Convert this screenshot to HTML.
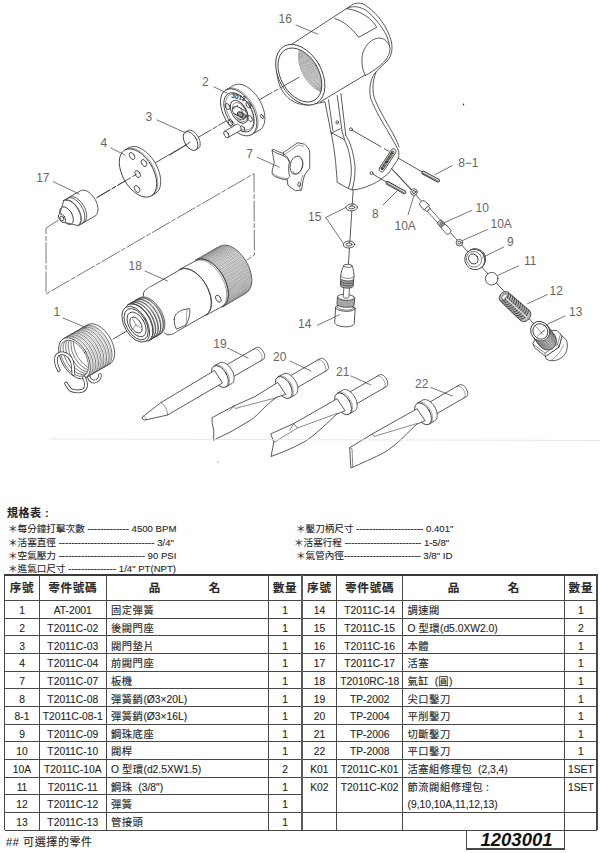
<!DOCTYPE html>
<html lang="zh-Hant"><head><meta charset="utf-8"><title>1203001</title>
<style>
html,body{margin:0;padding:0;background:#fff;}
body{width:600px;height:853px;position:relative;overflow:hidden;font-family:"Liberation Sans","Noto Sans CJK TC",sans-serif;color:#262626;}
.ln{position:absolute;}
.c{position:absolute;-webkit-text-stroke:0.12px #262626;font-size:10.3px;white-space:nowrap;overflow:visible;box-sizing:border-box;}
.c.h{font-weight:bold;font-size:11.6px;letter-spacing:0.7px;color:#2a2a2a;}
.c.n{letter-spacing:0;}
.k{letter-spacing:0.5px;}
.s{position:absolute;-webkit-text-stroke:0.1px #262626;font-size:9.6px;white-space:nowrap;line-height:13px;}
.s.b{font-weight:bold;font-size:11px;letter-spacing:0.5px;}
.s.f{font-size:11px;letter-spacing:0.6px;}
.num{position:absolute;font-size:18.5px;font-weight:bold;font-style:italic;text-align:center;color:#111;}
svg{position:absolute;left:0;top:0;}
</style></head><body>
<svg width="600" height="490" viewBox="0 0 600 490" font-family="Liberation Sans, sans-serif" stroke-linecap="round" stroke-linejoin="round">
<line x1="97.0" y1="197.5" x2="137.0" y2="174.0" stroke="#3c3c3c" stroke-width="0.85" stroke-dasharray="15 2.5 4 2.5"/>
<line x1="155.0" y1="163.0" x2="190.0" y2="142.5" stroke="#3c3c3c" stroke-width="0.85"/>
<line x1="198.0" y1="137.5" x2="226.0" y2="121.0" stroke="#3c3c3c" stroke-width="0.85" stroke-dasharray="15 2.5 4 2.5"/>
<line x1="259.0" y1="100.0" x2="300.0" y2="76.5" stroke="#3c3c3c" stroke-width="0.85" stroke-dasharray="15 2.5 4 2.5"/>
<line x1="113.0" y1="339.0" x2="134.0" y2="327.0" stroke="#3c3c3c" stroke-width="0.85"/>
<path d="M58 220.5 L46 228 L46 294 L254 173.6 L254.4 255 L247 260" fill="none" stroke="#3c3c3c" stroke-width="0.7" stroke-dasharray="20 2.5 4 2.5"/>
<line x1="353.3" y1="188.0" x2="348.3" y2="266.0" stroke="#3c3c3c" stroke-width="0.85"/>
<line x1="391.5" y1="168.5" x2="545.0" y2="336.0" stroke="#3c3c3c" stroke-width="0.85"/>
<line x1="395.3" y1="156.4" x2="424.0" y2="173.0" stroke="#3c3c3c" stroke-width="0.85"/>
<path d="M80.4 190.8 L81.4 190.4 L82.5 190.1 L83.7 190.2 L85.0 190.4 L86.3 190.9 L87.7 191.5 L89.0 192.4 L90.4 193.5 L91.6 194.7 L92.8 196.1 L94.0 197.6 L95.0 199.2 L95.9 200.9 L96.6 202.7 L97.2 204.4 L97.7 206.1 L97.9 207.8 L98.0 209.4 L97.9 210.9 L97.7 212.3 L97.2 213.5 L96.6 214.6 L95.9 215.4 L95.0 216.1 L78.1 225.8 L77.1 226.3 L76.0 226.5 L74.8 226.5 L73.5 226.3 L72.2 225.8 L70.8 225.1 L69.5 224.2 L68.1 223.2 L66.9 221.9 L65.6 220.5 L64.5 219.0 L63.5 217.4 L62.6 215.7 L61.9 214.0 L61.3 212.3 L60.8 210.5 L60.6 208.8 L60.5 207.2 L60.6 205.7 L60.8 204.4 L61.3 203.1 L61.9 202.1 L62.6 201.2 L63.5 200.6Z" fill="#fff" stroke="none"/>
<path d="M63.5 200.6 L80.4 190.8 L81.4 190.4 L82.5 190.1 L83.7 190.2 L85.0 190.4 L86.3 190.9 L87.7 191.5 L89.0 192.4 L90.4 193.5 L91.6 194.7 L92.8 196.1 L94.0 197.6 L95.0 199.2 L95.9 200.9 L96.6 202.7 L97.2 204.4 L97.7 206.1 L97.9 207.8 L98.0 209.4 L97.9 210.9 L97.7 212.3 L97.2 213.5 L96.6 214.6 L95.9 215.4 L95.0 216.1 L78.1 225.8" fill="none" stroke="#3c3c3c" stroke-width="0.85" />
<path d="M67.1 198.5 L68.2 198.0 L69.3 197.8 L70.5 197.8 L71.8 198.0 L73.1 198.5 L74.4 199.2 L75.8 200.1 L77.1 201.1 L78.4 202.4 L79.6 203.8 L80.7 205.3 L81.7 206.9 L82.6 208.6 L83.4 210.3 L84.0 212.0 L84.4 213.8 L84.7 215.5 L84.8 217.1 L84.7 218.6 L84.4 219.9 L84.0 221.2 L83.4 222.2 L82.6 223.1 L81.7 223.7" fill="none" stroke="#3c3c3c" stroke-width="0.85" />
<path d="M69.0 197.4 L70.1 196.9 L71.2 196.7 L72.4 196.7 L73.7 196.9 L75.0 197.4 L76.3 198.1 L77.7 199.0 L79.0 200.0 L80.3 201.3 L81.5 202.7 L82.6 204.2 L83.6 205.8 L84.5 207.5 L85.3 209.2 L85.9 210.9 L86.3 212.7 L86.6 214.4 L86.7 216.0 L86.6 217.5 L86.3 218.8 L85.9 220.1 L85.3 221.1 L84.5 222.0 L83.6 222.6" fill="none" stroke="#3c3c3c" stroke-width="0.85" />
<path d="M63.7 200.5 L64.7 200.0 L65.8 199.8 L67.0 199.8 L68.3 200.0 L69.6 200.5 L71.0 201.2 L72.3 202.1 L73.6 203.1 L74.9 204.4 L76.1 205.8 L77.3 207.3 L78.3 208.9 L79.2 210.6 L79.9 212.3 L80.5 214.0 L80.9 215.8 L81.2 217.5 L81.3 219.1 L81.2 220.6 L80.9 221.9 L80.5 223.2 L79.9 224.2 L79.2 225.1 L78.3 225.7" fill="none" stroke="#3c3c3c" stroke-width="0.85" />
<path d="M63.7 200.9 L64.7 200.5 L65.8 200.3 L67.0 200.3 L68.2 200.5 L69.5 200.9 L70.8 201.6 L72.1 202.5 L73.4 203.5 L74.6 204.7 L75.8 206.1 L76.9 207.5 L77.9 209.1 L78.8 210.7 L79.5 212.4 L80.1 214.1 L80.5 215.8 L80.8 217.4 L80.8 219.0 L80.8 220.5 L80.5 221.8 L80.1 223.0 L79.5 224.0 L78.8 224.9 L77.9 225.5 L71.3 224.0 L70.6 224.3 L69.9 224.4 L69.1 224.4 L68.2 224.3 L67.4 224.0 L66.5 223.5 L65.6 223.0 L64.7 222.3 L63.9 221.4 L63.1 220.5 L62.3 219.5 L61.7 218.5 L61.1 217.4 L60.6 216.2 L60.2 215.1 L59.9 213.9 L59.7 212.8 L59.7 211.8 L59.7 210.8 L59.9 209.9 L60.2 209.1 L60.6 208.4 L61.1 207.8 L61.7 207.4Z" fill="#fff" stroke="none"/>
<path d="M61.7 207.4 L63.7 200.9 L64.7 200.5 L65.8 200.3 L67.0 200.3 L68.2 200.5 L69.5 200.9 L70.8 201.6 L72.1 202.5 L73.4 203.5 L74.6 204.7 L75.8 206.1 L76.9 207.5 L77.9 209.1 L78.8 210.7 L79.5 212.4 L80.1 214.1 L80.5 215.8 L80.8 217.4 L80.8 219.0 L80.8 220.5 L80.5 221.8 L80.1 223.0 L79.5 224.0 L78.8 224.9 L77.9 225.5 L71.3 224.0" fill="none" stroke="#3c3c3c" stroke-width="0.85" />
<ellipse cx="66.5" cy="215.7" rx="5.5" ry="9.6" transform="rotate(-30 66.5 215.7)" fill="#fff" stroke="#3c3c3c" stroke-width="0.85"/>
<path d="M61.7 207.4 L62.3 207.1 L63.1 207.0 L63.9 207.0 L64.7 207.1 L65.6 207.4 L66.5 207.9 L67.4 208.4 L68.2 209.1 L69.1 210.0 L69.9 210.9 L70.6 211.9 L71.3 212.9 L71.9 214.0 L72.3 215.2 L72.7 216.3 L73.0 217.5 L73.2 218.6 L73.3 219.6 L73.2 220.6 L73.0 221.5 L72.7 222.3 L72.3 223.0 L71.9 223.6 L71.3 224.0 L64.6 222.4 L64.2 222.6 L63.9 222.7 L63.5 222.7 L63.0 222.6 L62.6 222.4 L62.1 222.2 L61.7 221.9 L61.2 221.5 L60.8 221.1 L60.4 220.7 L60.0 220.2 L59.7 219.6 L59.4 219.0 L59.1 218.5 L58.9 217.9 L58.8 217.3 L58.7 216.7 L58.7 216.2 L58.7 215.7 L58.8 215.2 L58.9 214.8 L59.1 214.5 L59.4 214.2 L59.7 214.0Z" fill="#fff" stroke="none"/>
<path d="M59.7 214.0 L61.7 207.4 L62.3 207.1 L63.1 207.0 L63.9 207.0 L64.7 207.1 L65.6 207.4 L66.5 207.9 L67.4 208.4 L68.2 209.1 L69.1 210.0 L69.9 210.9 L70.6 211.9 L71.3 212.9 L71.9 214.0 L72.3 215.2 L72.7 216.3 L73.0 217.5 L73.2 218.6 L73.3 219.6 L73.2 220.6 L73.0 221.5 L72.7 222.3 L72.3 223.0 L71.9 223.6 L71.3 224.0 L64.6 222.4" fill="none" stroke="#3c3c3c" stroke-width="0.85" />
<ellipse cx="62.1" cy="218.2" rx="2.8" ry="4.9" transform="rotate(-30 62.1 218.2)" fill="#fff" stroke="#3c3c3c" stroke-width="0.85"/>
<ellipse cx="61.9" cy="218.4" rx="1.7" ry="2.6" transform="rotate(-30 61.9 218.4)" fill="none" stroke="#3c3c3c" stroke-width="0.85"/>
<path d="M128.7 147.8 L130.6 146.9 L132.6 146.6 L134.8 146.6 L137.1 147.0 L139.5 147.8 L142.0 149.1 L144.4 150.7 L146.8 152.6 L149.1 154.9 L151.3 157.4 L153.4 160.1 L155.2 163.1 L156.8 166.1 L158.2 169.3 L159.3 172.4 L160.1 175.6 L160.6 178.6 L160.7 181.5 L160.6 184.3 L160.1 186.8 L159.3 189.0 L158.2 190.9 L156.8 192.5 L155.2 193.6 L151.3 195.9 L149.4 196.8 L147.4 197.1 L145.2 197.1 L142.9 196.7 L140.5 195.9 L138.0 194.6 L135.6 193.0 L133.2 191.1 L130.8 188.8 L128.6 186.3 L126.6 183.6 L124.8 180.6 L123.1 177.6 L121.8 174.4 L120.7 171.3 L119.9 168.1 L119.4 165.1 L119.3 162.2 L119.4 159.4 L119.9 156.9 L120.7 154.7 L121.8 152.8 L123.1 151.2 L124.7 150.1Z" fill="#fff" stroke="none"/>
<path d="M124.7 150.1 L128.7 147.8 L130.6 146.9 L132.6 146.6 L134.8 146.6 L137.1 147.0 L139.5 147.8 L142.0 149.1 L144.4 150.7 L146.8 152.6 L149.1 154.9 L151.3 157.4 L153.4 160.1 L155.2 163.1 L156.8 166.1 L158.2 169.3 L159.3 172.4 L160.1 175.6 L160.6 178.6 L160.7 181.5 L160.6 184.3 L160.1 186.8 L159.3 189.0 L158.2 190.9 L156.8 192.5 L155.2 193.6 L151.3 195.9" fill="none" stroke="#3c3c3c" stroke-width="0.85" />
<ellipse cx="138.0" cy="173.0" rx="15.3" ry="26.5" transform="rotate(-30 138.0 173.0)" fill="#fff" stroke="#3c3c3c" stroke-width="0.85"/>
<path d="M125.8 149.5 L127.6 148.6 L129.7 148.3 L131.9 148.3 L134.2 148.7 L136.6 149.5 L139.0 150.8 L141.5 152.4 L143.9 154.3 L146.2 156.6 L148.4 159.1 L150.4 161.8 L152.3 164.8 L153.9 167.8 L155.3 171.0 L156.3 174.1 L157.1 177.3 L157.6 180.3 L157.8 183.2 L157.6 186.0 L157.1 188.5 L156.3 190.7 L155.3 192.6 L153.9 194.2 L152.3 195.3" fill="none" stroke="#3c3c3c" stroke-width="0.5" />
<line x1="97.0" y1="197.5" x2="137.0" y2="174.0" stroke="#3c3c3c" stroke-width="0.85" stroke-dasharray="15 2.5 4 2.5"/>
<ellipse cx="132.0" cy="156.0" rx="2.3" ry="3.8" transform="rotate(-30 132.0 156.0)" fill="none" stroke="#3c3c3c" stroke-width="0.85"/>
<ellipse cx="144.0" cy="163.0" rx="2.3" ry="3.8" transform="rotate(-30 144.0 163.0)" fill="none" stroke="#3c3c3c" stroke-width="0.85"/>
<ellipse cx="137.6" cy="174.0" rx="2.3" ry="3.8" transform="rotate(-30 137.6 174.0)" fill="none" stroke="#3c3c3c" stroke-width="0.85"/>
<ellipse cx="137.0" cy="189.0" rx="2.3" ry="3.8" transform="rotate(-30 137.0 189.0)" fill="none" stroke="#3c3c3c" stroke-width="0.85"/>
<path d="M187.7 130.7 L188.4 130.4 L189.2 130.2 L190.0 130.2 L190.9 130.4 L191.9 130.7 L192.8 131.2 L193.8 131.8 L194.8 132.6 L195.7 133.5 L196.5 134.5 L197.3 135.5 L198.0 136.7 L198.7 137.9 L199.2 139.1 L199.6 140.4 L200.0 141.6 L200.1 142.8 L200.2 143.9 L200.1 145.0 L200.0 146.0 L199.6 146.9 L199.2 147.6 L198.7 148.2 L198.1 148.7 L195.8 150.0 L195.1 150.3 L194.3 150.5 L193.4 150.5 L192.5 150.3 L191.6 150.0 L190.6 149.5 L189.6 148.9 L188.7 148.1 L187.8 147.2 L186.9 146.2 L186.1 145.2 L185.4 144.0 L184.8 142.8 L184.2 141.6 L183.8 140.3 L183.5 139.1 L183.3 137.9 L183.2 136.8 L183.3 135.7 L183.5 134.7 L183.8 133.8 L184.2 133.1 L184.8 132.5 L185.4 132.0Z" fill="#fff" stroke="none"/>
<path d="M185.4 132.0 L187.7 130.7 L188.4 130.4 L189.2 130.2 L190.0 130.2 L190.9 130.4 L191.9 130.7 L192.8 131.2 L193.8 131.8 L194.8 132.6 L195.7 133.5 L196.5 134.5 L197.3 135.5 L198.0 136.7 L198.7 137.9 L199.2 139.1 L199.6 140.4 L200.0 141.6 L200.1 142.8 L200.2 143.9 L200.1 145.0 L200.0 146.0 L199.6 146.9 L199.2 147.6 L198.7 148.2 L198.1 148.7 L195.8 150.0" fill="none" stroke="#3c3c3c" stroke-width="0.85" />
<ellipse cx="190.6" cy="141.0" rx="6.0" ry="10.4" transform="rotate(-30 190.6 141.0)" fill="#fff" stroke="#3c3c3c" stroke-width="0.85"/>
<line x1="170.0" y1="155.0" x2="190.2" y2="142.2" stroke="#3c3c3c" stroke-width="0.85"/>
<path d="M233.8 85.4 L235.6 84.6 L237.5 84.2 L239.7 84.2 L241.9 84.6 L244.3 85.4 L246.7 86.6 L249.0 88.2 L251.4 90.1 L253.6 92.3 L255.8 94.7 L257.8 97.4 L259.6 100.3 L261.1 103.2 L262.5 106.3 L263.5 109.4 L264.3 112.4 L264.7 115.4 L264.9 118.2 L264.7 120.9 L264.3 123.3 L263.5 125.5 L262.5 127.4 L261.1 128.9 L259.6 130.0 L251.6 134.6 L249.8 135.4 L247.8 135.8 L245.7 135.8 L243.4 135.4 L241.1 134.6 L238.7 133.4 L236.3 131.8 L234.0 129.9 L231.7 127.7 L229.6 125.3 L227.6 122.6 L225.8 119.7 L224.2 116.8 L222.9 113.7 L221.9 110.6 L221.1 107.6 L220.6 104.6 L220.5 101.8 L220.6 99.1 L221.1 96.7 L221.8 94.5 L222.9 92.6 L224.2 91.1 L225.8 90.0Z" fill="#fff" stroke="none"/>
<path d="M225.8 90.0 L233.8 85.4 L235.6 84.6 L237.5 84.2 L239.7 84.2 L241.9 84.6 L244.3 85.4 L246.7 86.6 L249.0 88.2 L251.4 90.1 L253.6 92.3 L255.8 94.7 L257.8 97.4 L259.6 100.3 L261.1 103.2 L262.5 106.3 L263.5 109.4 L264.3 112.4 L264.7 115.4 L264.9 118.2 L264.7 120.9 L264.3 123.3 L263.5 125.5 L262.5 127.4 L261.1 128.9 L259.6 130.0 L251.6 134.6" fill="none" stroke="#3c3c3c" stroke-width="0.85" />
<ellipse cx="238.7" cy="112.3" rx="14.9" ry="25.8" transform="rotate(-30 238.7 112.3)" fill="#fff" stroke="#3c3c3c" stroke-width="0.85"/>
<path d="M226.9 89.3 L228.7 88.5 L230.7 88.1 L232.8 88.2 L235.1 88.6 L237.4 89.4 L239.8 90.6 L242.2 92.1 L244.5 94.0 L246.8 96.2 L248.9 98.7 L250.9 101.4 L252.7 104.2 L254.3 107.2 L255.6 110.2 L256.7 113.3 L257.4 116.4 L257.9 119.3 L258.1 122.2 L257.9 124.8 L257.4 127.3 L256.7 129.4 L255.6 131.3 L254.3 132.8 L252.7 134.0" fill="none" stroke="#3c3c3c" stroke-width="0.5" />
<ellipse cx="239.0" cy="112.3" rx="12.4" ry="21.5" transform="rotate(-30 239.0 112.3)" fill="none" stroke="#3c3c3c" stroke-width="0.85"/>
<ellipse cx="239.7" cy="112.0" rx="11.5" ry="20.0" transform="rotate(-30 239.7 112.0)" fill="none" stroke="#3c3c3c" stroke-width="0.5"/>
<ellipse cx="262.0" cy="116.5" rx="1.2" ry="2.3" transform="rotate(-30 262.0 116.5)" fill="none" stroke="#3c3c3c" stroke-width="0.85"/>
<ellipse cx="239.2" cy="111.8" rx="7.2" ry="12.5" transform="rotate(-30 239.2 111.8)" fill="none" stroke="#3c3c3c" stroke-width="0.9"/>
<ellipse cx="239.9" cy="112.1" rx="6.1" ry="10.5" transform="rotate(-30 239.9 112.1)" fill="none" stroke="#3c3c3c" stroke-width="0.5"/>
<path d="M244.3 110.5 L244.8 110.9 L245.3 111.3 L245.8 111.8 L246.2 112.3 L246.5 112.8 L246.8 113.3 L247.0 113.9 L247.1 114.5 L247.1 115.0 L247.0 115.5 L246.9 116.0 L246.7 116.5 L246.4 116.9 L246.0 117.2 L245.5 117.5 L245.0 117.8 L244.5 117.9 L243.9 118.0 L243.3 118.1 L242.7 118.0 L242.0 117.9 L241.4 117.7 L240.7 117.4 L240.1 117.1 L235.1 114.1 L234.6 113.7 L234.1 113.3 L233.6 112.8 L233.2 112.3 L232.9 111.8 L232.6 111.3 L232.4 110.7 L232.3 110.1 L232.3 109.6 L232.4 109.1 L232.5 108.6 L232.7 108.1 L233.0 107.7 L233.4 107.4 L233.9 107.1 L234.4 106.8 L234.9 106.7 L235.5 106.6 L236.1 106.5 L236.7 106.6 L237.4 106.7 L238.0 106.9 L238.7 107.2 L239.3 107.5Z" fill="#fff" stroke="none"/>
<path d="M239.3 107.5 L244.3 110.5 L244.8 110.9 L245.3 111.3 L245.8 111.8 L246.2 112.3 L246.5 112.8 L246.8 113.3 L247.0 113.9 L247.1 114.5 L247.1 115.0 L247.0 115.5 L246.9 116.0 L246.7 116.5 L246.4 116.9 L246.0 117.2 L245.5 117.5 L245.0 117.8 L244.5 117.9 L243.9 118.0 L243.3 118.1 L242.7 118.0 L242.0 117.9 L241.4 117.7 L240.7 117.4 L240.1 117.1 L235.1 114.1" fill="none" stroke="#3c3c3c" stroke-width="0.9" />
<ellipse cx="237.2" cy="110.8" rx="3.9" ry="5.2" transform="rotate(-60 237.2 110.8)" fill="#fff" stroke="#3c3c3c" stroke-width="0.9"/>
<path d="M244.1 113.7 L244.5 113.9 L244.8 114.2 L245.1 114.4 L245.3 114.7 L245.6 115.0 L245.7 115.3 L245.9 115.6 L246.0 115.9 L246.0 116.2 L246.0 116.6 L246.0 116.9 L245.9 117.1 L245.7 117.4 L245.6 117.6 L245.3 117.8 L245.1 118.0 L244.8 118.1 L244.4 118.2 L244.1 118.3 L243.7 118.3 L243.4 118.2 L243.0 118.1 L242.6 118.0 L242.3 117.9 L239.3 116.4 L238.9 116.2 L238.6 115.9 L238.3 115.7 L238.1 115.4 L237.8 115.1 L237.7 114.8 L237.5 114.5 L237.4 114.2 L237.4 113.9 L237.4 113.5 L237.4 113.2 L237.5 113.0 L237.7 112.7 L237.8 112.5 L238.1 112.3 L238.3 112.1 L238.6 112.0 L239.0 111.9 L239.3 111.8 L239.7 111.8 L240.0 111.9 L240.4 112.0 L240.8 112.1 L241.1 112.2Z" fill="#999" stroke="none"/>
<path d="M241.1 112.2 L244.1 113.7 L244.5 113.9 L244.8 114.2 L245.1 114.4 L245.3 114.7 L245.6 115.0 L245.7 115.3 L245.9 115.6 L246.0 115.9 L246.0 116.2 L246.0 116.6 L246.0 116.9 L245.9 117.1 L245.7 117.4 L245.6 117.6 L245.3 117.8 L245.1 118.0 L244.8 118.1 L244.4 118.2 L244.1 118.3 L243.7 118.3 L243.4 118.2 L243.0 118.1 L242.6 118.0 L242.3 117.9 L239.3 116.4" fill="none" stroke="#3c3c3c" stroke-width="0.9" />
<ellipse cx="240.2" cy="114.3" rx="2.2" ry="3.0" transform="rotate(-60 240.2 114.3)" fill="#999" stroke="#3c3c3c" stroke-width="0.9"/>
<path d="M236.7 117.3 C240.7 121.3 245.7 120.3 246.7 115.3" fill="none" stroke="#3c3c3c" stroke-width="0.9" />
<path d="M232.7 109.3 L237.7 105.3 M242.7 104.8 L245.7 110.3" fill="none" stroke="#3c3c3c" stroke-width="0.8" />
<ellipse cx="227.6" cy="106.5" rx="2.0" ry="3.3" transform="rotate(-30 227.6 106.5)" fill="none" stroke="#3c3c3c" stroke-width="0.85"/>
<ellipse cx="250.0" cy="118.5" rx="2.0" ry="3.3" transform="rotate(-30 250.0 118.5)" fill="none" stroke="#3c3c3c" stroke-width="0.85"/>
<ellipse cx="242.5" cy="128.8" rx="2.0" ry="3.3" transform="rotate(-30 242.5 128.8)" fill="none" stroke="#3c3c3c" stroke-width="0.85"/>
<ellipse cx="230.5" cy="122.5" rx="2.0" ry="3.3" transform="rotate(-30 230.5 122.5)" fill="none" stroke="#3c3c3c" stroke-width="0.85"/>
<ellipse cx="248.5" cy="105.0" rx="2.0" ry="3.3" transform="rotate(-30 248.5 105.0)" fill="none" stroke="#3c3c3c" stroke-width="0.85"/>
<text x="231" y="97.6" font-size="6.5" fill="#333" font-weight="bold" transform="rotate(14 231 97.6)">3012</text>
<path d="M236.7 124.3 L237.0 124.2 L237.2 124.1 L237.5 124.1 L237.8 124.2 L238.2 124.3 L238.5 124.5 L238.8 124.7 L239.2 124.9 L239.5 125.3 L239.8 125.6 L240.1 126.0 L240.3 126.4 L240.5 126.8 L240.7 127.2 L240.9 127.6 L241.0 128.1 L241.0 128.5 L241.0 128.9 L241.0 129.2 L241.0 129.6 L240.8 129.9 L240.7 130.1 L240.5 130.4 L240.3 130.5 L228.1 137.5 L227.8 137.6 L227.6 137.7 L227.3 137.7 L227.0 137.6 L226.6 137.5 L226.3 137.3 L226.0 137.1 L225.6 136.9 L225.3 136.5 L225.0 136.2 L224.7 135.8 L224.5 135.4 L224.3 135.0 L224.1 134.6 L223.9 134.2 L223.8 133.7 L223.8 133.3 L223.8 132.9 L223.8 132.6 L223.8 132.2 L224.0 131.9 L224.1 131.7 L224.3 131.4 L224.5 131.3Z" fill="#fff" stroke="none"/>
<path d="M224.5 131.3 L236.7 124.3 L237.0 124.2 L237.2 124.1 L237.5 124.1 L237.8 124.2 L238.2 124.3 L238.5 124.5 L238.8 124.7 L239.2 124.9 L239.5 125.3 L239.8 125.6 L240.1 126.0 L240.3 126.4 L240.5 126.8 L240.7 127.2 L240.9 127.6 L241.0 128.1 L241.0 128.5 L241.0 128.9 L241.0 129.2 L241.0 129.6 L240.8 129.9 L240.7 130.1 L240.5 130.4 L240.3 130.5 L228.1 137.5" fill="none" stroke="#3c3c3c" stroke-width="0.85" />
<ellipse cx="226.3" cy="134.4" rx="2.1" ry="3.6" transform="rotate(-30 226.3 134.4)" fill="#fff" stroke="#3c3c3c" stroke-width="0.85"/>
<path d="M291.5 44.4 L351.3 5.4 C355 2.5 362 1.8 367 6.5 C378 14 388 28 391.5 42 C393 51 391 58 385 63 L374.8 73 C370 80 369 90 370.4 96.8 C372 104 381 120 386.7 129.3 C391 137 396 145 398.6 151 C399.5 156 398 160 395.3 163 C391 170 389 173 386.7 174.8 C380 180 375 183.5 371.5 184.6 C364 188 357 190 352 189.8 L348.3 188.5 L337.2 182.4 C336.5 172 336 166 335.3 159 C334 148 332.5 139 331 132.5 L324.9 101.7 L309.3 105 C290 106 276 90 277 68 C278 52 286 44 291.5 44.4Z" fill="#fff" stroke="#3c3c3c" stroke-width="0.85" />
<path d="M346.7 8.7 C351 6 358 5.5 365.3 10 C374 16 383 28 386.7 36 C388.5 40 389.3 44 389.3 46" fill="none" stroke="#3c3c3c" stroke-width="0.85" />
<path d="M334.7 18.7 C341 19.5 351 27 358.7 37.3 L376.7 27.3 C372 19 362 11 347.3 8.7" fill="none" stroke="#3c3c3c" stroke-width="0.85" />
<line x1="320.5" y1="101.8" x2="365.3" y2="74.8" stroke="#3c3c3c" stroke-width="0.85"/>
<path d="M365.3 75.5 C361 68 361 56 364 50 C367 43 373 38.5 379 38 C385 38 389 43 390 48 C390 55 386 61 379 66.5 C374 70.5 369 73.5 365.3 75.5Z" fill="#fff" stroke="#3c3c3c" stroke-width="0.85" />
<path d="M376 72.5 C372.5 80 372.5 90 373.8 96 C376 104 384 118 389.5 127.5 C394 135 397 141 399 147" fill="none" stroke="#3c3c3c" stroke-width="0.85" />
<path d="M328.5 99.9 L332.9 130.6" fill="none" stroke="#3c3c3c" stroke-width="0.85" />
<path d="M337.2 95.5 L342.1 131.9 L344.6 139.3" fill="none" stroke="#3c3c3c" stroke-width="0.85" />
<path d="M340.9 93.7 L345.8 135.6" fill="none" stroke="#3c3c3c" stroke-width="0.85" />
<path d="M331.5 133 L340.2 128.8" fill="none" stroke="#3c3c3c" stroke-width="0.85" />
<path d="M331 132.5 L344 139.3 C348 146 351 158 351.3 170 C351.3 178 350 184 348.3 188.5" fill="none" stroke="#3c3c3c" stroke-width="0.85" />
<path d="M345.8 135.6 C350 141 353.5 152 355 166.4 C355.3 176 354 184 352 189.8" fill="none" stroke="#3c3c3c" stroke-width="0.85" />
<ellipse cx="350.9" cy="129.3" rx="1.5" ry="1.5" transform="rotate(0 350.9 129.3)" fill="none" stroke="#3c3c3c" stroke-width="0.85"/>
<ellipse cx="371.5" cy="173.1" rx="1.5" ry="1.5" transform="rotate(0 371.5 173.1)" fill="none" stroke="#3c3c3c" stroke-width="0.85"/>
<ellipse cx="337.2" cy="122.3" rx="1.2" ry="1.6" transform="rotate(20 337.2 122.3)" fill="none" stroke="#3c3c3c" stroke-width="0.85"/>
<g transform="rotate(-57 387.7 160.2)"><rect x="374.2" y="157.6" width="26.6" height="5.2" rx="2.6" fill="#fff" stroke="#3c3c3c" stroke-width="0.8"/><rect x="376.2" y="158.6" width="22.6" height="3.2" rx="1.6" fill="#3a3a3a" stroke="none"/><text x="378.5" y="161.3" font-size="2.8" fill="#eee" font-weight="bold" letter-spacing="0.6">AIR TOOLS</text></g>
<line x1="352.3" y1="130.3" x2="389.5" y2="151.6" stroke="#3c3c3c" stroke-width="0.85" stroke-dasharray="33 4 5 4"/>
<line x1="373.5" y1="174.5" x2="388.0" y2="183.0" stroke="#3c3c3c" stroke-width="0.85"/>
<line x1="391.5" y1="168.5" x2="414.0" y2="192.0" stroke="#3c3c3c" stroke-width="0.85"/>
<ellipse cx="218.0" cy="462.0" rx="0.6" ry="0.6" transform="rotate(0 218.0 462.0)" fill="#666" stroke="none" stroke-width="0.85"/>
<ellipse cx="463.5" cy="104.5" rx="0.7" ry="1.0" transform="rotate(0 463.5 104.5)" fill="#333" stroke="none" stroke-width="0.85"/>
<ellipse cx="300.3" cy="74.7" rx="21.3" ry="32.8" transform="rotate(-30 300.3 74.7)" fill="#fff" stroke="#3c3c3c" stroke-width="0.85"/>
<clipPath id="bore"><ellipse cx="299.9" cy="75.0" rx="18.98" ry="29.2" transform="rotate(-30 299.9 75.0)"/></clipPath>
<g clip-path="url(#bore)"><ellipse cx="320.4" cy="66.5" rx="18.98" ry="29.2" transform="rotate(-30 320.4 66.5)" fill="none" stroke="#666" stroke-width="0.5"/><ellipse cx="321.4" cy="66.2" rx="18.98" ry="29.2" transform="rotate(-30 321.4 66.2)" fill="none" stroke="#666" stroke-width="0.5"/><ellipse cx="322.5" cy="66.0" rx="18.98" ry="29.2" transform="rotate(-30 322.5 66.0)" fill="none" stroke="#666" stroke-width="0.5"/><ellipse cx="323.5" cy="65.8" rx="18.98" ry="29.2" transform="rotate(-30 323.5 65.8)" fill="none" stroke="#666" stroke-width="0.5"/><ellipse cx="324.6" cy="65.5" rx="18.98" ry="29.2" transform="rotate(-30 324.6 65.5)" fill="none" stroke="#666" stroke-width="0.5"/><ellipse cx="325.6" cy="65.2" rx="18.98" ry="29.2" transform="rotate(-30 325.6 65.2)" fill="none" stroke="#666" stroke-width="0.5"/><ellipse cx="326.7" cy="65.0" rx="18.98" ry="29.2" transform="rotate(-30 326.7 65.0)" fill="none" stroke="#666" stroke-width="0.5"/><ellipse cx="327.8" cy="64.8" rx="18.98" ry="29.2" transform="rotate(-30 327.8 64.8)" fill="none" stroke="#666" stroke-width="0.5"/><ellipse cx="328.8" cy="64.5" rx="18.98" ry="29.2" transform="rotate(-30 328.8 64.5)" fill="none" stroke="#666" stroke-width="0.5"/><ellipse cx="329.8" cy="64.2" rx="18.98" ry="29.2" transform="rotate(-30 329.8 64.2)" fill="none" stroke="#666" stroke-width="0.5"/><ellipse cx="330.9" cy="64.0" rx="18.98" ry="29.2" transform="rotate(-30 330.9 64.0)" fill="none" stroke="#666" stroke-width="0.5"/><ellipse cx="331.9" cy="63.8" rx="18.98" ry="29.2" transform="rotate(-30 331.9 63.8)" fill="none" stroke="#666" stroke-width="0.5"/><ellipse cx="333.0" cy="63.5" rx="18.98" ry="29.2" transform="rotate(-30 333.0 63.5)" fill="none" stroke="#666" stroke-width="0.5"/><ellipse cx="334.0" cy="63.2" rx="18.98" ry="29.2" transform="rotate(-30 334.0 63.2)" fill="none" stroke="#666" stroke-width="0.5"/><ellipse cx="335.1" cy="63.0" rx="18.98" ry="29.2" transform="rotate(-30 335.1 63.0)" fill="none" stroke="#666" stroke-width="0.5"/><ellipse cx="336.1" cy="62.8" rx="18.98" ry="29.2" transform="rotate(-30 336.1 62.8)" fill="none" stroke="#666" stroke-width="0.5"/><ellipse cx="337.2" cy="62.5" rx="18.98" ry="29.2" transform="rotate(-30 337.2 62.5)" fill="none" stroke="#666" stroke-width="0.5"/><ellipse cx="338.2" cy="62.2" rx="18.98" ry="29.2" transform="rotate(-30 338.2 62.2)" fill="none" stroke="#666" stroke-width="0.5"/><ellipse cx="339.3" cy="62.0" rx="18.98" ry="29.2" transform="rotate(-30 339.3 62.0)" fill="none" stroke="#666" stroke-width="0.5"/></g>
<ellipse cx="299.9" cy="75.0" rx="19.0" ry="29.2" transform="rotate(-30 299.9 75.0)" fill="none" stroke="#3c3c3c" stroke-width="0.85"/>
<line x1="281.5" y1="87.2" x2="299.7" y2="77.0" stroke="#3c3c3c" stroke-width="0.85" stroke-dasharray="20 3"/>
<path d="M283.5 152.5 L297.7 142.7 L304.5 144.2 C308 147 309.7 150 309.7 152.5 L309.7 168.2 L304.5 175 L303 181 L301.5 190 L295.5 190.7 L288 185.5 L287.2 180.2Z" fill="#fff" stroke="#3c3c3c" stroke-width="0.85" />
<path d="M285.5 154 L298.2 145 L303.5 146.2" fill="none" stroke="#3c3c3c" stroke-width="0.5" />
<path d="M301.5 190 L299.5 188.5 L301 181.5 L302.5 175.5" fill="none" stroke="#3c3c3c" stroke-width="0.5" />
<ellipse cx="296.4" cy="165.2" rx="6.2" ry="9.2" transform="rotate(14 296.4 165.2)" fill="#fff" stroke="#3c3c3c" stroke-width="0.85"/>
<path d="M301.1 158.6 L301.7 159.4 L302.2 160.4 L302.6 161.5 L302.8 162.7 L302.8 164.1 L302.7 165.4 L302.5 166.8 L302.1 168.1 L301.5 169.4 L300.9 170.5 L300.1 171.5 L299.3 172.4 L298.4 173.0 L297.5 173.4 L296.6 173.6 L295.7 173.6 L294.8 173.4 L294.1 172.9 L293.4 172.2 L292.8 171.3" fill="none" stroke="#3c3c3c" stroke-width="0.6" />
<ellipse cx="299.2" cy="184.3" rx="1.4" ry="2.0" transform="rotate(10 299.2 184.3)" fill="none" stroke="#3c3c3c" stroke-width="0.85"/>
<path d="M272.2 150.2 C272.5 156 275 162 273.7 164.5 C272.5 169 271.8 172 272.2 174.2 C274 176.5 281 179.5 286.5 179.8 L289.7 176.5 C288 170 288.5 166 289.5 162.2 C288 158 284 155.5 280.5 154.5 C277 153.5 274 152 272.2 150.2Z" fill="#fff" stroke="#3c3c3c" stroke-width="0.85" />
<path d="M272.2 150.2 L273.9 149.3 C275.5 150.5 278 151.7 280.8 152.5 C285 153.8 288.5 157 289.5 162.2" fill="none" stroke="#3c3c3c" stroke-width="0.85" />
<path d="M272.4 173 C275 175.5 281 178.3 286.8 178.6" fill="none" stroke="#3c3c3c" stroke-width="0.5" />
<g transform="translate(422.0 172.0) rotate(28.0)"><rect x="0" y="-1.5" width="19.6" height="3.0" rx="1.5" fill="#e2e2e2" stroke="#3a3a3a" stroke-width="0.95"/><line x1="1.5" y1="0.5" x2="18.1" y2="0.5" stroke="#3a3a3a" stroke-width="0.6"/></g>
<g transform="translate(386.3 182.3) rotate(29.0)"><rect x="0" y="-1.5" width="22.3" height="3.0" rx="1.5" fill="#e2e2e2" stroke="#3a3a3a" stroke-width="0.95"/><line x1="1.5" y1="0.5" x2="20.8" y2="0.5" stroke="#3a3a3a" stroke-width="0.6"/></g>
<ellipse cx="414.0" cy="192.0" rx="3.3" ry="3.3" transform="rotate(0 414.0 192.0)" fill="#fff" stroke="#3c3c3c" stroke-width="0.85"/>
<ellipse cx="414.0" cy="192.0" rx="1.5" ry="1.5" transform="rotate(0 414.0 192.0)" fill="none" stroke="#3c3c3c" stroke-width="0.85"/>
<ellipse cx="459.4" cy="242.7" rx="3.3" ry="3.3" transform="rotate(0 459.4 242.7)" fill="#fff" stroke="#3c3c3c" stroke-width="0.85"/>
<ellipse cx="459.4" cy="242.7" rx="1.5" ry="1.5" transform="rotate(0 459.4 242.7)" fill="none" stroke="#3c3c3c" stroke-width="0.85"/>
<g transform="translate(422 202.8) rotate(47.6)"><path d="M1 -3.2 C-2.5 -3.2 -2.5 3.2 1 3.2 L7 3.4 L7 -3.4 Z" fill="#fff" stroke="#3c3c3c" stroke-width="0.85"/><rect x="7" y="-2.4" width="3" height="4.8" fill="#fff" stroke="#3c3c3c" stroke-width="0.7"/><rect x="10" y="-1.9" width="19" height="3.8" fill="#fff" stroke="#3c3c3c" stroke-width="0.7"/><rect x="25.5" y="-2.7" width="5.5" height="5.4" fill="#bbb" stroke="#3c3c3c" stroke-width="0.7"/><path d="M26.5 -2.5 L29 2.5 M28.5 -2.5 L30.5 2.5" stroke="#3c3c3c" stroke-width="0.6"/><rect x="31" y="-3" width="10" height="6" rx="2" fill="#fff" stroke="#3c3c3c" stroke-width="0.75"/></g>
<ellipse cx="475.6" cy="258.8" rx="9.9" ry="10.4" transform="rotate(-35 475.6 258.8)" fill="#fff" stroke="#3c3c3c" stroke-width="0.85"/>
<ellipse cx="474.8" cy="259.5" rx="9.9" ry="10.4" transform="rotate(-35 474.8 259.5)" fill="#fff" stroke="#3c3c3c" stroke-width="0.85"/>
<ellipse cx="474.0" cy="259.2" rx="7.5" ry="8.0" transform="rotate(-35 474.0 259.2)" fill="none" stroke="#3c3c3c" stroke-width="0.6"/>
<ellipse cx="473.3" cy="258.9" rx="4.5" ry="5.3" transform="rotate(-35 473.3 258.9)" fill="#fff" stroke="#3c3c3c" stroke-width="0.9"/>
<ellipse cx="491.7" cy="278.7" rx="6.3" ry="6.3" transform="rotate(0 491.7 278.7)" fill="#fff" stroke="#3c3c3c" stroke-width="0.85"/>
<g transform="translate(515.3 306.7) rotate(42.5) translate(-15.3 0)"><path d="M1 -5.9 C-5.5 -5.9 -5.5 5.9 1 5.9 L28 6.7 C35.5 6.7 35.5 -6.7 28 -6.7 Z" fill="#bdbdbd" stroke="#3c3c3c" stroke-width="0.9"/><path d="M1.0 -5.7 C4.6 -3.2 4.6 3.2 1.0 5.7" fill="none" stroke="#444" stroke-width="1.0"/><path d="M3.6 -5.8 C7.2 -3.2 7.2 3.2 3.6 5.8" fill="none" stroke="#444" stroke-width="1.0"/><path d="M6.2 -5.9 C9.8 -3.2 9.8 3.2 6.2 5.9" fill="none" stroke="#444" stroke-width="1.0"/><path d="M8.8 -6.0 C12.4 -3.2 12.4 3.2 8.8 6.0" fill="none" stroke="#444" stroke-width="1.0"/><path d="M11.4 -6.0 C15.0 -3.2 15.0 3.2 11.4 6.0" fill="none" stroke="#444" stroke-width="1.0"/><path d="M14.0 -6.1 C17.6 -3.2 17.6 3.2 14.0 6.1" fill="none" stroke="#444" stroke-width="1.0"/><path d="M16.6 -6.2 C20.2 -3.2 20.2 3.2 16.6 6.2" fill="none" stroke="#444" stroke-width="1.0"/><path d="M19.2 -6.3 C22.8 -3.2 22.8 3.2 19.2 6.3" fill="none" stroke="#444" stroke-width="1.0"/><path d="M21.8 -6.4 C25.4 -3.2 25.4 3.2 21.8 6.4" fill="none" stroke="#444" stroke-width="1.0"/><path d="M24.4 -6.4 C28.0 -3.2 28.0 3.2 24.4 6.4" fill="none" stroke="#444" stroke-width="1.0"/><path d="M27.0 -6.5 C30.6 -3.2 30.6 3.2 27.0 6.5" fill="none" stroke="#444" stroke-width="1.0"/><line x1="2.8" y1="-4.4" x2="0.9" y2="4.4" stroke="#777" stroke-width="0.6"/><line x1="5.4" y1="-4.4" x2="3.5" y2="4.4" stroke="#777" stroke-width="0.6"/><line x1="8.0" y1="-4.4" x2="6.1" y2="4.4" stroke="#777" stroke-width="0.6"/><line x1="10.6" y1="-4.4" x2="8.7" y2="4.4" stroke="#777" stroke-width="0.6"/><line x1="13.2" y1="-4.4" x2="11.3" y2="4.4" stroke="#777" stroke-width="0.6"/><line x1="15.8" y1="-4.4" x2="13.9" y2="4.4" stroke="#777" stroke-width="0.6"/><line x1="18.4" y1="-4.4" x2="16.5" y2="4.4" stroke="#777" stroke-width="0.6"/><line x1="21.0" y1="-4.4" x2="19.1" y2="4.4" stroke="#777" stroke-width="0.6"/><line x1="23.6" y1="-4.4" x2="21.7" y2="4.4" stroke="#777" stroke-width="0.6"/><line x1="26.2" y1="-4.4" x2="24.3" y2="4.4" stroke="#777" stroke-width="0.6"/><line x1="28.8" y1="-4.4" x2="26.9" y2="4.4" stroke="#777" stroke-width="0.6"/><line x1="0" y1="0" x2="30" y2="0" stroke="#eee" stroke-width="1.2"/><ellipse cx="0.5" cy="0" rx="2" ry="3.6" fill="#eee" stroke="#444" stroke-width="0.6"/></g>
<path d="M545.5 356.5 L546 358.8 C550 362 558 361.2 563 356.5 C567.5 352 568.5 345 566 339.5 L562 336 L559 347 Z" fill="#fff" stroke="#3c3c3c" stroke-width="0.85" />
<path d="M533 344 L534.5 347.5 L545.5 356.5 L559 347 L562 336 L560.5 334 L557 330.5 L540 330 Z" fill="#fff" stroke="#3c3c3c" stroke-width="0.85" />
<path d="M533 344 L545 353.2 L557.5 344.2 L560.5 334" fill="none" stroke="#3c3c3c" stroke-width="0.6" />
<path d="M545 353.2 L545.5 356.5 M557.5 344.2 L559 347" fill="none" stroke="#3c3c3c" stroke-width="0.6" />
<path d="M551 360.5 C555 358 561 352 563.5 345" fill="none" stroke="#3c3c3c" stroke-width="0.5" />
<path d="M554.1 334.5 L554.9 335.6 L555.5 336.8 L555.9 338.0 L556.2 339.3 L556.3 340.6 L556.3 341.9 L556.1 343.1 L555.8 344.3 L555.3 345.4 L554.6 346.4 L553.8 347.4 L552.9 348.2 L551.9 348.8 L550.8 349.3 L549.7 349.7 L548.4 349.8 L547.2 349.8 L545.9 349.7 L544.7 349.4 L543.5 348.9 L542.4 348.2 L541.3 347.5 L540.3 346.6 L539.5 345.5 L532.9 336.7 L532.1 335.6 L531.5 334.4 L531.1 333.2 L530.8 331.9 L530.7 330.6 L530.7 329.3 L530.9 328.1 L531.2 326.9 L531.7 325.8 L532.4 324.8 L533.2 323.8 L534.1 323.0 L535.1 322.4 L536.2 321.9 L537.3 321.5 L538.6 321.4 L539.8 321.4 L541.1 321.5 L542.3 321.8 L543.5 322.3 L544.6 323.0 L545.7 323.7 L546.7 324.6 L547.5 325.7Z" fill="#c8c8c8" stroke="none"/>
<path d="M547.5 325.7 L554.1 334.5 L554.9 335.6 L555.5 336.8 L555.9 338.0 L556.2 339.3 L556.3 340.6 L556.3 341.9 L556.1 343.1 L555.8 344.3 L555.3 345.4 L554.6 346.4 L553.8 347.4 L552.9 348.2 L551.9 348.8 L550.8 349.3 L549.7 349.7 L548.4 349.8 L547.2 349.8 L545.9 349.7 L544.7 349.4 L543.5 348.9 L542.4 348.2 L541.3 347.5 L540.3 346.6 L539.5 345.5 L532.9 336.7" fill="none" stroke="#3c3c3c" stroke-width="0.9" />
<path d="M548.4 326.8 L549.1 327.9 L549.7 329.1 L550.2 330.4 L550.5 331.6 L550.6 332.9 L550.6 334.2 L550.4 335.5 L550.0 336.7 L549.5 337.8 L548.9 338.8 L548.1 339.7 L547.2 340.5 L546.2 341.2 L545.1 341.7 L543.9 342.0 L542.7 342.2 L541.5 342.2 L540.2 342.0 L539.0 341.7 L537.8 341.2 L536.6 340.6 L535.6 339.8 L534.6 338.9 L533.7 337.9" fill="none" stroke="#555" stroke-width="0.6" />
<path d="M549.3 328.0 L550.0 329.1 L550.6 330.3 L551.0 331.5 L551.3 332.8 L551.5 334.1 L551.4 335.4 L551.3 336.6 L550.9 337.8 L550.4 338.9 L549.7 340.0 L549.0 340.9 L548.1 341.7 L547.1 342.3 L546.0 342.8 L544.8 343.2 L543.6 343.4 L542.3 343.4 L541.1 343.2 L539.9 342.9 L538.7 342.4 L537.5 341.8 L536.4 341.0 L535.5 340.1 L534.6 339.1" fill="none" stroke="#555" stroke-width="0.6" />
<path d="M550.1 329.1 L550.9 330.3 L551.5 331.4 L551.9 332.7 L552.2 334.0 L552.3 335.3 L552.3 336.5 L552.1 337.8 L551.8 339.0 L551.3 340.1 L550.6 341.1 L549.8 342.0 L548.9 342.8 L547.9 343.5 L546.8 344.0 L545.7 344.3 L544.4 344.5 L543.2 344.5 L542.0 344.4 L540.7 344.0 L539.5 343.6 L538.4 342.9 L537.3 342.1 L536.3 341.2 L535.5 340.2" fill="none" stroke="#555" stroke-width="0.6" />
<path d="M551.0 330.3 L551.7 331.4 L552.3 332.6 L552.8 333.8 L553.1 335.1 L553.2 336.4 L553.2 337.7 L553.0 338.9 L552.6 340.1 L552.1 341.3 L551.5 342.3 L550.7 343.2 L549.8 344.0 L548.8 344.7 L547.7 345.2 L546.5 345.5 L545.3 345.7 L544.1 345.7 L542.8 345.5 L541.6 345.2 L540.4 344.7 L539.3 344.1 L538.2 343.3 L537.2 342.4 L536.4 341.4" fill="none" stroke="#555" stroke-width="0.6" />
<path d="M551.9 331.5 L552.6 332.6 L553.2 333.8 L553.7 335.0 L554.0 336.3 L554.1 337.6 L554.1 338.9 L553.9 340.1 L553.5 341.3 L553.0 342.4 L552.4 343.4 L551.6 344.4 L550.7 345.2 L549.7 345.8 L548.6 346.3 L547.4 346.7 L546.2 346.8 L544.9 346.8 L543.7 346.7 L542.5 346.4 L541.3 345.9 L540.1 345.2 L539.1 344.5 L538.1 343.6 L537.2 342.5" fill="none" stroke="#555" stroke-width="0.6" />
<path d="M552.7 332.6 L553.5 333.7 L554.1 334.9 L554.5 336.2 L554.8 337.4 L555.0 338.7 L554.9 340.0 L554.7 341.3 L554.4 342.5 L553.9 343.6 L553.2 344.6 L552.4 345.5 L551.5 346.3 L550.5 347.0 L549.4 347.5 L548.3 347.8 L547.1 348.0 L545.8 348.0 L544.6 347.8 L543.3 347.5 L542.1 347.0 L541.0 346.4 L539.9 345.6 L539.0 344.7 L538.1 343.7" fill="none" stroke="#555" stroke-width="0.6" />
<path d="M553.6 333.8 L554.4 334.9 L554.9 336.1 L555.4 337.3 L555.7 338.6 L555.8 339.9 L555.8 341.2 L555.6 342.4 L555.3 343.6 L554.7 344.7 L554.1 345.8 L553.3 346.7 L552.4 347.5 L551.4 348.1 L550.3 348.6 L549.1 349.0 L547.9 349.2 L546.7 349.2 L545.4 349.0 L544.2 348.7 L543.0 348.2 L541.9 347.6 L540.8 346.8 L539.8 345.9 L539.0 344.9" fill="none" stroke="#555" stroke-width="0.6" />
<ellipse cx="540.2" cy="331.2" rx="9.2" ry="10.2" transform="rotate(-36 540.2 331.2)" fill="#fff" stroke="#3c3c3c" stroke-width="0.9"/>
<ellipse cx="540.4" cy="331.4" rx="7.2" ry="8.0" transform="rotate(-36 540.4 331.4)" fill="none" stroke="#3c3c3c" stroke-width="0.85"/>
<line x1="533.5" y1="324.0" x2="543.0" y2="334.5" stroke="#3c3c3c" stroke-width="0.55"/>
<line x1="536.8" y1="336.8" x2="544.5" y2="329.5" stroke="#3c3c3c" stroke-width="0.55"/>
<path d="M541 333.5 C542 331.5 544 330.5 545 331" fill="none" stroke="#3c3c3c" stroke-width="0.5" />
<ellipse cx="351.8" cy="207.4" rx="5.7" ry="3.5" transform="rotate(-3 351.8 207.4)" fill="#fff" stroke="#3c3c3c" stroke-width="0.85"/>
<ellipse cx="351.8" cy="207.4" rx="3.0" ry="1.5" transform="rotate(-3 351.8 207.4)" fill="none" stroke="#3c3c3c" stroke-width="0.85"/>
<ellipse cx="349.0" cy="244.5" rx="5.7" ry="3.5" transform="rotate(-3 349.0 244.5)" fill="#fff" stroke="#3c3c3c" stroke-width="0.85"/>
<ellipse cx="349.0" cy="244.5" rx="3.0" ry="1.5" transform="rotate(-3 349.0 244.5)" fill="none" stroke="#3c3c3c" stroke-width="0.85"/>
<line x1="352.2" y1="204.6" x2="351.9" y2="206.2" stroke="#3c3c3c" stroke-width="0.85"/>
<line x1="349.4" y1="241.8" x2="349.1" y2="243.2" stroke="#3c3c3c" stroke-width="0.85"/>
<g transform="translate(1.2 0) rotate(3.5 348 295)"><path d="M335.2 308 L335.2 323 C335.2 328.3 354.8 328.3 354.8 323 L354.8 308" fill="#fff" stroke="#3c3c3c" stroke-width="0.85"/><ellipse cx="345" cy="308" rx="9.8" ry="3.5" fill="#fff" stroke="#3c3c3c" stroke-width="0.85"/><ellipse cx="345" cy="307.6" rx="8.0" ry="2.7" fill="none" stroke="#3c3c3c" stroke-width="0.6"/><path d="M336.4 297.5 L336.4 304.5 C336.4 308.3 353.6 308.3 353.6 304.5 L353.6 297.5" fill="#d4d4d4" stroke="#3c3c3c" stroke-width="0.85"/><line x1="337.2" y1="299.5" x2="337.2" y2="306.1" stroke="#666" stroke-width="0.5"/><line x1="338.4" y1="300.0" x2="338.4" y2="306.7" stroke="#666" stroke-width="0.5"/><line x1="339.6" y1="300.4" x2="339.6" y2="307.0" stroke="#666" stroke-width="0.5"/><line x1="340.8" y1="300.6" x2="340.8" y2="307.3" stroke="#666" stroke-width="0.5"/><line x1="342.0" y1="300.7" x2="342.0" y2="307.4" stroke="#666" stroke-width="0.5"/><line x1="343.2" y1="300.8" x2="343.2" y2="307.5" stroke="#666" stroke-width="0.5"/><line x1="344.4" y1="300.9" x2="344.4" y2="307.6" stroke="#666" stroke-width="0.5"/><line x1="345.6" y1="300.9" x2="345.6" y2="307.6" stroke="#666" stroke-width="0.5"/><line x1="346.8" y1="300.8" x2="346.8" y2="307.5" stroke="#666" stroke-width="0.5"/><line x1="348.0" y1="300.7" x2="348.0" y2="307.4" stroke="#666" stroke-width="0.5"/><line x1="349.2" y1="300.6" x2="349.2" y2="307.3" stroke="#666" stroke-width="0.5"/><line x1="350.4" y1="300.4" x2="350.4" y2="307.0" stroke="#666" stroke-width="0.5"/><line x1="351.6" y1="300.0" x2="351.6" y2="306.7" stroke="#666" stroke-width="0.5"/><line x1="352.8" y1="299.5" x2="352.8" y2="306.1" stroke="#666" stroke-width="0.5"/><ellipse cx="345" cy="297.5" rx="8.6" ry="3.0" fill="#fff" stroke="#3c3c3c" stroke-width="0.85"/><path d="M342.2 287 L342.2 297.2 C342.2 298.6 347.8 298.6 347.8 297.2 L347.8 287Z" fill="#fff" stroke="#3c3c3c" stroke-width="0.75"/><path d="M338.6 279 L338.6 286 C338.6 289 351.4 289 351.4 286 L351.4 279Z" fill="#aaa" stroke="#3c3c3c" stroke-width="0.85"/><path d="M338.6 281.4 C338.6 284.4 351.4 284.4 351.4 281.4 M338.6 283.8 C338.6 286.8 351.4 286.8 351.4 283.8" fill="none" stroke="#333" stroke-width="0.8"/><path d="M340.8 266 C339.2 270 338.4 272 338.4 278.5 C338.4 282 351.6 282 351.6 278.5 C351.6 272 350.8 270 349.2 266 C349.2 264 340.8 264 340.8 266Z" fill="#fff" stroke="#3c3c3c" stroke-width="0.85"/><path d="M338.4 276 C338.4 279.5 351.6 279.5 351.6 276" fill="none" stroke="#3c3c3c" stroke-width="0.6"/><ellipse cx="345" cy="266" rx="4.2" ry="1.5" fill="#fff" stroke="#3c3c3c" stroke-width="0.7"/></g>
<path d="M219.6 246.4 L221.5 245.6 L223.5 245.2 L225.7 245.2 L228.0 245.6 L230.4 246.4 L232.9 247.6 L235.3 249.2 L237.8 251.1 L240.1 253.4 L242.3 255.9 L244.4 258.7 L246.2 261.6 L247.8 264.7 L249.2 267.8 L250.3 271.0 L251.1 274.1 L251.6 277.2 L251.8 280.1 L251.7 282.9 L251.2 285.4 L250.4 287.6 L249.3 289.6 L248.0 291.2 L246.4 292.4 L223.1 306.6 L221.2 307.5 L219.1 307.9 L216.9 307.9 L214.6 307.5 L212.1 306.6 L209.6 305.4 L207.1 303.8 L204.7 301.8 L202.3 299.6 L200.1 297.0 L198.0 294.2 L196.1 291.2 L194.4 288.1 L193.0 284.9 L191.9 281.7 L191.1 278.5 L190.6 275.4 L190.4 272.4 L190.6 269.6 L191.0 267.1 L191.8 264.8 L192.9 262.8 L194.3 261.2 L195.9 260.0Z" fill="#f0f0f0" stroke="none"/>
<path d="M195.9 260.0 L219.6 246.4 L221.5 245.6 L223.5 245.2 L225.7 245.2 L228.0 245.6 L230.4 246.4 L232.9 247.6 L235.3 249.2 L237.8 251.1 L240.1 253.4 L242.3 255.9 L244.4 258.7 L246.2 261.6 L247.8 264.7 L249.2 267.8 L250.3 271.0 L251.1 274.1 L251.6 277.2 L251.8 280.1 L251.7 282.9 L251.2 285.4 L250.4 287.6 L249.3 289.6 L248.0 291.2 L246.4 292.4 L223.1 306.6" fill="none" stroke="#3c3c3c" stroke-width="0.85" />
<path d="M197.1 259.3 L198.9 258.5 L201.0 258.1 L203.3 258.1 L205.6 258.5 L208.1 259.4 L210.6 260.6 L213.1 262.3 L215.5 264.2 L217.9 266.5 L220.1 269.1 L222.2 271.9 L224.1 274.9 L225.7 278.0 L227.1 281.2 L228.2 284.4 L229.0 287.6 L229.5 290.7 L229.7 293.7 L229.5 296.5 L229.0 299.0 L228.2 301.3 L227.1 303.3 L225.7 304.8 L224.1 306.1" fill="none" stroke="#707070" stroke-width="0.5" />
<path d="M198.1 258.7 L200.0 257.9 L202.1 257.5 L204.3 257.5 L206.7 257.9 L209.1 258.8 L211.6 260.0 L214.1 261.6 L216.6 263.6 L218.9 265.9 L221.2 268.5 L223.3 271.3 L225.1 274.3 L226.8 277.4 L228.2 280.6 L229.3 283.8 L230.1 287.0 L230.6 290.1 L230.7 293.1 L230.6 295.9 L230.1 298.4 L229.3 300.7 L228.2 302.6 L226.8 304.2 L225.1 305.4" fill="none" stroke="#707070" stroke-width="0.5" />
<path d="M199.2 258.1 L201.1 257.2 L203.2 256.8 L205.4 256.9 L207.8 257.3 L210.2 258.2 L212.7 259.4 L215.2 261.0 L217.6 263.0 L220.0 265.3 L222.2 267.9 L224.3 270.7 L226.2 273.7 L227.9 276.8 L229.2 280.0 L230.3 283.2 L231.1 286.4 L231.6 289.5 L231.8 292.5 L231.6 295.3 L231.1 297.8 L230.3 300.1 L229.2 302.0 L227.9 303.6 L226.2 304.8" fill="none" stroke="#707070" stroke-width="0.5" />
<path d="M200.3 257.4 L202.2 256.6 L204.2 256.2 L206.5 256.2 L208.8 256.7 L211.3 257.5 L213.8 258.8 L216.3 260.4 L218.7 262.4 L221.1 264.7 L223.3 267.3 L225.4 270.1 L227.3 273.0 L228.9 276.2 L230.3 279.4 L231.4 282.6 L232.2 285.8 L232.7 288.9 L232.9 291.9 L232.7 294.6 L232.2 297.2 L231.4 299.4 L230.3 301.4 L228.9 303.0 L227.3 304.2" fill="none" stroke="#707070" stroke-width="0.5" />
<path d="M201.4 256.8 L203.2 256.0 L205.3 255.6 L207.5 255.6 L209.9 256.1 L212.4 256.9 L214.8 258.2 L217.3 259.8 L219.8 261.8 L222.2 264.1 L224.4 266.6 L226.5 269.4 L228.3 272.4 L230.0 275.5 L231.4 278.7 L232.5 282.0 L233.3 285.2 L233.8 288.3 L233.9 291.2 L233.8 294.0 L233.3 296.6 L232.5 298.8 L231.4 300.8 L230.0 302.4 L228.4 303.6" fill="none" stroke="#707070" stroke-width="0.5" />
<path d="M202.4 256.2 L204.3 255.4 L206.4 255.0 L208.6 255.0 L211.0 255.4 L213.4 256.3 L215.9 257.5 L218.4 259.2 L220.9 261.2 L223.2 263.4 L225.5 266.0 L227.5 268.8 L229.4 271.8 L231.1 274.9 L232.5 278.1 L233.6 281.3 L234.4 284.5 L234.8 287.6 L235.0 290.6 L234.8 293.4 L234.4 295.9 L233.6 298.2 L232.5 300.2 L231.1 301.8 L229.4 303.0" fill="none" stroke="#707070" stroke-width="0.5" />
<path d="M203.5 255.6 L205.4 254.8 L207.4 254.4 L209.7 254.4 L212.0 254.8 L214.5 255.7 L217.0 256.9 L219.5 258.6 L221.9 260.5 L224.3 262.8 L226.5 265.4 L228.6 268.2 L230.5 271.2 L232.1 274.3 L233.5 277.5 L234.6 280.7 L235.4 283.9 L235.9 287.0 L236.1 290.0 L235.9 292.8 L235.4 295.3 L234.6 297.6 L233.5 299.5 L232.1 301.1 L230.5 302.4" fill="none" stroke="#707070" stroke-width="0.5" />
<path d="M204.6 255.0 L206.4 254.2 L208.5 253.8 L210.8 253.8 L213.1 254.2 L215.6 255.1 L218.1 256.3 L220.6 257.9 L223.0 259.9 L225.4 262.2 L227.6 264.8 L229.7 267.6 L231.6 270.6 L233.2 273.7 L234.6 276.9 L235.7 280.1 L236.5 283.3 L237.0 286.4 L237.2 289.4 L237.0 292.2 L236.5 294.7 L235.7 297.0 L234.6 298.9 L233.2 300.5 L231.6 301.7" fill="none" stroke="#707070" stroke-width="0.5" />
<path d="M205.6 254.4 L207.5 253.5 L209.6 253.1 L211.8 253.2 L214.2 253.6 L216.6 254.4 L219.1 255.7 L221.6 257.3 L224.1 259.3 L226.4 261.6 L228.7 264.2 L230.8 267.0 L232.6 269.9 L234.3 273.1 L235.7 276.3 L236.8 279.5 L237.6 282.7 L238.1 285.8 L238.2 288.8 L238.1 291.5 L237.6 294.1 L236.8 296.4 L235.7 298.3 L234.3 299.9 L232.6 301.1" fill="none" stroke="#707070" stroke-width="0.5" />
<path d="M206.7 253.7 L208.6 252.9 L210.7 252.5 L212.9 252.5 L215.3 253.0 L217.7 253.8 L220.2 255.1 L222.7 256.7 L225.1 258.7 L227.5 261.0 L229.7 263.5 L231.8 266.3 L233.7 269.3 L235.3 272.4 L236.7 275.6 L237.8 278.9 L238.6 282.1 L239.1 285.2 L239.3 288.1 L239.1 290.9 L238.6 293.5 L237.8 295.7 L236.7 297.7 L235.4 299.3 L233.7 300.5" fill="none" stroke="#707070" stroke-width="0.5" />
<path d="M207.8 253.1 L209.7 252.3 L211.7 251.9 L214.0 251.9 L216.3 252.4 L218.8 253.2 L221.3 254.5 L223.8 256.1 L226.2 258.1 L228.6 260.4 L230.8 262.9 L232.9 265.7 L234.8 268.7 L236.4 271.8 L237.8 275.0 L238.9 278.3 L239.7 281.4 L240.2 284.6 L240.4 287.5 L240.2 290.3 L239.7 292.9 L238.9 295.1 L237.8 297.1 L236.4 298.7 L234.8 299.9" fill="none" stroke="#707070" stroke-width="0.5" />
<path d="M208.8 252.5 L210.7 251.7 L212.8 251.3 L215.0 251.3 L217.4 251.7 L219.9 252.6 L222.3 253.8 L224.8 255.5 L227.3 257.4 L229.6 259.7 L231.9 262.3 L234.0 265.1 L235.8 268.1 L237.5 271.2 L238.9 274.4 L240.0 277.6 L240.8 280.8 L241.3 283.9 L241.4 286.9 L241.3 289.7 L240.8 292.2 L240.0 294.5 L238.9 296.5 L237.5 298.0 L235.8 299.3" fill="none" stroke="#707070" stroke-width="0.5" />
<path d="M209.9 251.9 L211.8 251.1 L213.9 250.7 L216.1 250.7 L218.5 251.1 L220.9 252.0 L223.4 253.2 L225.9 254.8 L228.4 256.8 L230.7 259.1 L233.0 261.7 L235.0 264.5 L236.9 267.5 L238.6 270.6 L239.9 273.8 L241.0 277.0 L241.9 280.2 L242.3 283.3 L242.5 286.3 L242.3 289.1 L241.9 291.6 L241.1 293.9 L240.0 295.8 L238.6 297.4 L236.9 298.6" fill="none" stroke="#707070" stroke-width="0.5" />
<path d="M211.0 251.3 L212.9 250.4 L214.9 250.0 L217.2 250.1 L219.5 250.5 L222.0 251.4 L224.5 252.6 L227.0 254.2 L229.4 256.2 L231.8 258.5 L234.0 261.1 L236.1 263.9 L238.0 266.9 L239.6 270.0 L241.0 273.2 L242.1 276.4 L242.9 279.6 L243.4 282.7 L243.6 285.7 L243.4 288.5 L242.9 291.0 L242.1 293.3 L241.0 295.2 L239.6 296.8 L238.0 298.0" fill="none" stroke="#707070" stroke-width="0.5" />
<path d="M212.1 250.6 L213.9 249.8 L216.0 249.4 L218.3 249.4 L220.6 249.9 L223.1 250.7 L225.6 252.0 L228.0 253.6 L230.5 255.6 L232.9 257.9 L235.1 260.5 L237.2 263.3 L239.1 266.2 L240.7 269.4 L242.1 272.6 L243.2 275.8 L244.0 279.0 L244.5 282.1 L244.6 285.1 L244.5 287.8 L244.0 290.4 L243.2 292.6 L242.1 294.6 L240.7 296.2 L239.1 297.4" fill="none" stroke="#707070" stroke-width="0.5" />
<path d="M213.1 250.0 L215.0 249.2 L217.1 248.8 L219.3 248.8 L221.7 249.3 L224.1 250.1 L226.6 251.4 L229.1 253.0 L231.6 255.0 L233.9 257.3 L236.2 259.8 L238.2 262.6 L240.1 265.6 L241.8 268.7 L243.2 271.9 L244.3 275.2 L245.1 278.4 L245.6 281.5 L245.7 284.4 L245.6 287.2 L245.1 289.8 L244.3 292.0 L243.2 294.0 L241.8 295.6 L240.1 296.8" fill="none" stroke="#707070" stroke-width="0.5" />
<path d="M214.2 249.4 L216.1 248.6 L218.2 248.2 L220.4 248.2 L222.8 248.6 L225.2 249.5 L227.7 250.7 L230.2 252.4 L232.6 254.4 L235.0 256.6 L237.2 259.2 L239.3 262.0 L241.2 265.0 L242.8 268.1 L244.2 271.3 L245.3 274.5 L246.1 277.7 L246.6 280.8 L246.8 283.8 L246.6 286.6 L246.1 289.1 L245.3 291.4 L244.2 293.4 L242.8 295.0 L241.2 296.2" fill="none" stroke="#707070" stroke-width="0.5" />
<path d="M215.3 248.8 L217.1 248.0 L219.2 247.6 L221.5 247.6 L223.8 248.0 L226.3 248.9 L228.8 250.1 L231.3 251.8 L233.7 253.7 L236.1 256.0 L238.3 258.6 L240.4 261.4 L242.3 264.4 L243.9 267.5 L245.3 270.7 L246.4 273.9 L247.2 277.1 L247.7 280.2 L247.9 283.2 L247.7 286.0 L247.2 288.5 L246.4 290.8 L245.3 292.7 L243.9 294.3 L242.3 295.6" fill="none" stroke="#707070" stroke-width="0.5" />
<path d="M216.3 248.2 L218.2 247.4 L220.3 247.0 L222.5 247.0 L224.9 247.4 L227.3 248.3 L229.8 249.5 L232.3 251.1 L234.8 253.1 L237.1 255.4 L239.4 258.0 L241.5 260.8 L243.3 263.8 L245.0 266.9 L246.4 270.1 L247.5 273.3 L248.3 276.5 L248.8 279.6 L248.9 282.6 L248.8 285.4 L248.3 287.9 L247.5 290.2 L246.4 292.1 L245.0 293.7 L243.3 294.9" fill="none" stroke="#707070" stroke-width="0.5" />
<path d="M217.4 247.6 L219.3 246.7 L221.4 246.3 L223.6 246.4 L226.0 246.8 L228.4 247.6 L230.9 248.9 L233.4 250.5 L235.8 252.5 L238.2 254.8 L240.5 257.4 L242.5 260.2 L244.4 263.1 L246.1 266.3 L247.4 269.5 L248.5 272.7 L249.3 275.9 L249.8 279.0 L250.0 282.0 L249.8 284.7 L249.4 287.3 L248.5 289.6 L247.4 291.5 L246.1 293.1 L244.4 294.3" fill="none" stroke="#707070" stroke-width="0.5" />
<path d="M218.5 246.9 L220.4 246.1 L222.4 245.7 L224.7 245.7 L227.0 246.2 L229.5 247.0 L232.0 248.3 L234.5 249.9 L236.9 251.9 L239.3 254.2 L241.5 256.7 L243.6 259.5 L245.5 262.5 L247.1 265.6 L248.5 268.8 L249.6 272.1 L250.4 275.3 L250.9 278.4 L251.1 281.3 L250.9 284.1 L250.4 286.7 L249.6 288.9 L248.5 290.9 L247.1 292.5 L245.5 293.7" fill="none" stroke="#707070" stroke-width="0.5" />
<line x1="198.9" y1="258.8" x2="222.5" y2="245.2" stroke="#888" stroke-width="0.35"/>
<line x1="200.9" y1="258.7" x2="224.6" y2="245.0" stroke="#888" stroke-width="0.35"/>
<line x1="203.1" y1="258.8" x2="226.8" y2="245.2" stroke="#888" stroke-width="0.35"/>
<line x1="205.4" y1="259.4" x2="229.1" y2="245.8" stroke="#888" stroke-width="0.35"/>
<line x1="207.8" y1="260.4" x2="231.4" y2="246.7" stroke="#888" stroke-width="0.35"/>
<line x1="210.2" y1="261.7" x2="233.8" y2="248.0" stroke="#888" stroke-width="0.35"/>
<line x1="212.5" y1="263.3" x2="236.2" y2="249.7" stroke="#888" stroke-width="0.35"/>
<line x1="214.9" y1="265.3" x2="238.5" y2="251.6" stroke="#888" stroke-width="0.35"/>
<line x1="217.1" y1="267.5" x2="240.8" y2="253.8" stroke="#888" stroke-width="0.35"/>
<line x1="219.2" y1="270.0" x2="242.9" y2="256.3" stroke="#888" stroke-width="0.35"/>
<line x1="221.2" y1="272.7" x2="244.8" y2="259.0" stroke="#888" stroke-width="0.35"/>
<line x1="223.0" y1="275.5" x2="246.6" y2="261.9" stroke="#888" stroke-width="0.35"/>
<line x1="224.6" y1="278.5" x2="248.2" y2="264.8" stroke="#888" stroke-width="0.35"/>
<line x1="225.9" y1="281.5" x2="249.6" y2="267.9" stroke="#888" stroke-width="0.35"/>
<line x1="227.0" y1="284.6" x2="250.6" y2="271.0" stroke="#888" stroke-width="0.35"/>
<line x1="227.8" y1="287.7" x2="251.5" y2="274.0" stroke="#888" stroke-width="0.35"/>
<line x1="228.3" y1="290.7" x2="252.0" y2="277.0" stroke="#888" stroke-width="0.35"/>
<line x1="228.6" y1="293.5" x2="252.2" y2="279.9" stroke="#888" stroke-width="0.35"/>
<line x1="228.5" y1="296.3" x2="252.2" y2="282.6" stroke="#888" stroke-width="0.35"/>
<line x1="228.1" y1="298.8" x2="251.8" y2="285.1" stroke="#888" stroke-width="0.35"/>
<line x1="227.5" y1="301.0" x2="251.1" y2="287.4" stroke="#888" stroke-width="0.35"/>
<line x1="226.6" y1="303.0" x2="250.2" y2="289.4" stroke="#888" stroke-width="0.35"/>
<line x1="225.4" y1="304.7" x2="249.0" y2="291.1" stroke="#888" stroke-width="0.35"/>
<path d="M196.5 260.3 L198.4 259.6 L200.4 259.2 L202.6 259.3 L204.9 259.8 L207.3 260.6 L209.8 261.9 L212.2 263.6 L214.6 265.5 L216.9 267.8 L219.1 270.3 L221.1 273.1 L222.9 276.0 L224.5 279.1 L225.8 282.2 L226.8 285.4 L227.6 288.5 L228.0 291.5 L228.2 294.4 L228.0 297.1 L227.5 299.6 L226.6 301.7 L225.5 303.6 L224.1 305.1 L222.5 306.3 L205.9 315.3 L204.0 316.0 L202.0 316.4 L199.8 316.3 L197.5 315.8 L195.1 315.0 L192.6 313.7 L190.2 312.0 L187.8 310.1 L185.5 307.8 L183.3 305.3 L181.3 302.5 L179.5 299.6 L177.9 296.5 L176.6 293.4 L175.6 290.2 L174.8 287.1 L174.4 284.1 L174.2 281.2 L174.4 278.5 L174.9 276.0 L175.8 273.9 L176.9 272.0 L178.3 270.5 L179.9 269.3Z" fill="#fff" stroke="none"/>
<path d="M179.9 269.3 L196.5 260.3 L198.4 259.6 L200.4 259.2 L202.6 259.3 L204.9 259.8 L207.3 260.6 L209.8 261.9 L212.2 263.6 L214.6 265.5 L216.9 267.8 L219.1 270.3 L221.1 273.1 L222.9 276.0 L224.5 279.1 L225.8 282.2 L226.8 285.4 L227.6 288.5 L228.0 291.5 L228.2 294.4 L228.0 297.1 L227.5 299.6 L226.6 301.7 L225.5 303.6 L224.1 305.1 L222.5 306.3 L205.9 315.3" fill="none" stroke="#3c3c3c" stroke-width="0.85" />
<path d="M196.0 259.9 L197.9 259.1 L200.0 258.7 L202.2 258.7 L204.6 259.2 L207.0 260.0 L209.5 261.3 L212.0 262.9 L214.4 264.9 L216.8 267.2 L219.0 269.7 L221.1 272.5 L223.0 275.5 L224.6 278.6 L226.0 281.8 L227.1 285.1 L227.9 288.2 L228.4 291.4 L228.6 294.3 L228.4 297.1 L227.9 299.7 L227.1 301.9 L226.0 303.9 L224.6 305.5 L223.0 306.7" fill="none" stroke="#3c3c3c" stroke-width="0.85" />
<path d="M194.9 261.2 L196.7 260.4 L198.8 260.0 L201.0 260.1 L203.3 260.5 L205.7 261.3 L208.1 262.5 L210.5 264.1 L212.9 266.1 L215.3 268.3 L217.4 270.8 L219.5 273.6 L221.3 276.5 L222.9 279.5 L224.3 282.7 L225.4 285.8 L226.1 288.9 L226.6 292.0 L226.8 294.9 L226.6 297.6 L226.1 300.1 L225.4 302.3 L224.3 304.2 L222.9 305.8 L221.3 307.0" fill="none" stroke="#3c3c3c" stroke-width="0.5" />
<path d="M179.9 269.8 L181.7 269.0 L183.7 268.6 L185.9 268.6 L188.2 269.1 L190.5 269.9 L192.9 271.1 L195.3 272.7 L197.7 274.6 L199.9 276.8 L202.1 279.2 L204.1 281.9 L205.9 284.8 L207.5 287.8 L208.8 290.9 L209.9 294.0 L210.7 297.1 L211.1 300.1 L211.3 302.9 L211.1 305.6 L210.7 308.1 L209.9 310.2 L208.8 312.1 L207.5 313.7 L205.9 314.8 L174.8 332.7 L173.0 333.5 L171.0 333.9 L168.8 333.9 L166.5 333.4 L164.2 332.6 L161.8 331.4 L159.4 329.8 L157.0 327.9 L154.8 325.7 L152.6 323.3 L150.6 320.6 L148.8 317.7 L147.2 314.7 L145.9 311.6 L144.8 308.5 L144.0 305.4 L143.6 302.4 L143.4 299.6 L143.6 296.9 L144.0 294.4 L144.8 292.3 L145.9 290.4 L147.2 288.8 L148.8 287.7Z" fill="#fff" stroke="none"/>
<path d="M148.8 287.7 L179.9 269.8 L181.7 269.0 L183.7 268.6 L185.9 268.6 L188.2 269.1 L190.5 269.9 L192.9 271.1 L195.3 272.7 L197.7 274.6 L199.9 276.8 L202.1 279.2 L204.1 281.9 L205.9 284.8 L207.5 287.8 L208.8 290.9 L209.9 294.0 L210.7 297.1 L211.1 300.1 L211.3 302.9 L211.1 305.6 L210.7 308.1 L209.9 310.2 L208.8 312.1 L207.5 313.7 L205.9 314.8 L174.8 332.7" fill="none" stroke="#3c3c3c" stroke-width="0.85" />
<path d="M179.8 269.6 L181.6 268.8 L183.6 268.4 L185.8 268.4 L188.1 268.9 L190.5 269.7 L192.9 270.9 L195.3 272.5 L197.7 274.4 L200.0 276.6 L202.2 279.1 L204.2 281.8 L206.0 284.7 L207.6 287.8 L208.9 290.9 L210.0 294.0 L210.8 297.1 L211.3 300.1 L211.4 303.0 L211.3 305.7 L210.8 308.2 L210.0 310.4 L208.9 312.3 L207.6 313.8 L206.0 315.0" fill="none" stroke="#3c3c3c" stroke-width="0.85" />
<path d="M148.8 287.7 L150.6 286.9 L152.6 286.5 L154.8 286.5 L157.0 286.9 L159.4 287.8 L161.8 289.0 L164.2 290.5 L166.6 292.4 L168.8 294.7 L171.0 297.1 L173.0 299.8 L174.8 302.7 L176.4 305.7 L177.7 308.8 L178.8 311.9 L179.6 315.0 L180.0 318.0 L180.2 320.8 L180.0 323.5 L179.6 325.9 L178.8 328.1 L177.7 330.0 L176.4 331.5 L174.8 332.7 L173.5 333.4 L171.7 334.2 L169.7 334.6 L167.5 334.6 L165.3 334.1 L162.9 333.3 L160.5 332.1 L158.1 330.6 L155.8 328.7 L153.5 326.5 L151.3 324.0 L149.3 321.3 L147.5 318.4 L146.0 315.4 L144.6 312.4 L143.6 309.3 L142.8 306.2 L142.3 303.2 L142.2 300.4 L142.3 297.7 L142.8 295.2 L143.6 293.1 L144.6 291.2 L146.0 289.7 L147.5 288.5Z" fill="#fff" stroke="none"/>
<path d="M147.5 288.5 L148.8 287.7" fill="none" stroke="#3c3c3c" stroke-width="0.85" />
<path d="M174.8 332.7 L173.5 333.4" fill="none" stroke="#3c3c3c" stroke-width="0.85" />
<path d="M147.5 288.5 L149.3 287.7 L151.3 287.3 L153.5 287.3 L155.8 287.8 L158.1 288.6 L160.5 289.8 L162.9 291.3 L165.2 293.2 L167.5 295.4 L169.7 297.9 L171.7 300.6 L173.5 303.5 L175.0 306.5 L176.4 309.5 L177.4 312.6 L178.2 315.7 L178.7 318.7 L178.8 321.5 L178.7 324.2 L178.2 326.7 L177.4 328.8 L176.4 330.7 L175.0 332.2 L173.5 333.4 L172.1 334.0 L170.3 334.8 L168.3 335.1 L166.2 335.1 L163.9 334.7 L161.6 333.9 L159.2 332.7 L156.8 331.2 L154.5 329.3 L152.2 327.1 L150.1 324.6 L148.1 322.0 L146.3 319.1 L144.8 316.2 L143.5 313.1 L142.4 310.0 L141.6 307.0 L141.2 304.0 L141.0 301.2 L141.2 298.5 L141.6 296.1 L142.4 294.0 L143.4 292.1 L144.8 290.6 L146.3 289.4Z" fill="#fff" stroke="none"/>
<path d="M146.3 289.4 L147.5 288.5" fill="none" stroke="#3c3c3c" stroke-width="0.85" />
<path d="M173.5 333.4 L172.1 334.0" fill="none" stroke="#3c3c3c" stroke-width="0.85" />
<path d="M146.3 289.4 L148.1 288.6 L150.1 288.3 L152.2 288.3 L154.5 288.7 L156.8 289.5 L159.2 290.7 L161.6 292.2 L163.9 294.1 L166.2 296.3 L168.3 298.8 L170.3 301.4 L172.1 304.3 L173.6 307.2 L175.0 310.3 L176.0 313.4 L176.8 316.4 L177.2 319.4 L177.4 322.2 L177.2 324.9 L176.8 327.3 L176.0 329.4 L175.0 331.3 L173.6 332.8 L172.1 334.0 L170.6 334.4 L168.8 335.2 L166.9 335.6 L164.8 335.5 L162.6 335.1 L160.2 334.3 L157.9 333.2 L155.6 331.6 L153.3 329.8 L151.0 327.6 L148.9 325.2 L147.0 322.6 L145.2 319.8 L143.7 316.8 L142.4 313.8 L141.3 310.8 L140.6 307.8 L140.1 304.9 L140.0 302.1 L140.1 299.5 L140.6 297.1 L141.3 295.0 L142.4 293.1 L143.7 291.6 L145.2 290.5Z" fill="#fff" stroke="none"/>
<path d="M145.2 290.5 L146.3 289.4" fill="none" stroke="#3c3c3c" stroke-width="0.85" />
<path d="M172.1 334.0 L170.6 334.4" fill="none" stroke="#3c3c3c" stroke-width="0.85" />
<path d="M145.2 290.5 L147.0 289.7 L148.9 289.3 L151.0 289.4 L153.3 289.8 L155.6 290.6 L157.9 291.7 L160.2 293.3 L162.5 295.1 L164.8 297.3 L166.9 299.7 L168.8 302.3 L170.6 305.1 L172.1 308.1 L173.4 311.1 L174.5 314.1 L175.2 317.1 L175.7 320.0 L175.8 322.8 L175.7 325.4 L175.2 327.8 L174.5 329.9 L173.4 331.8 L172.1 333.3 L170.6 334.4 L169.0 334.7 L167.3 335.4 L165.4 335.8 L163.3 335.8 L161.1 335.4 L158.9 334.6 L156.6 333.4 L154.3 332.0 L152.1 330.1 L149.9 328.0 L147.8 325.7 L145.9 323.1 L144.2 320.4 L142.7 317.5 L141.4 314.6 L140.4 311.6 L139.7 308.7 L139.2 305.8 L139.1 303.1 L139.2 300.5 L139.7 298.2 L140.4 296.1 L141.4 294.3 L142.7 292.8 L144.2 291.7Z" fill="#fff" stroke="none"/>
<path d="M144.2 291.7 L145.2 290.5" fill="none" stroke="#3c3c3c" stroke-width="0.85" />
<path d="M170.6 334.4 L169.0 334.7" fill="none" stroke="#3c3c3c" stroke-width="0.85" />
<path d="M144.2 291.7 L145.9 291.0 L147.8 290.6 L149.9 290.6 L152.1 291.0 L154.3 291.8 L156.6 293.0 L158.9 294.4 L161.1 296.3 L163.3 298.4 L165.4 300.7 L167.3 303.3 L169.0 306.0 L170.5 308.9 L171.8 311.8 L172.8 314.8 L173.5 317.7 L174.0 320.6 L174.1 323.3 L174.0 325.9 L173.5 328.2 L172.8 330.3 L171.8 332.1 L170.5 333.6 L169.0 334.7 L167.3 334.6 L165.6 335.4 L163.8 335.7 L161.8 335.7 L159.7 335.3 L157.5 334.6 L155.3 333.5 L153.1 332.0 L150.9 330.3 L148.8 328.2 L146.9 326.0 L145.0 323.5 L143.4 320.8 L141.9 318.1 L140.7 315.3 L139.7 312.4 L139.0 309.6 L138.6 306.8 L138.4 304.2 L138.6 301.7 L139.0 299.5 L139.7 297.5 L140.7 295.7 L141.9 294.3 L143.4 293.3Z" fill="#fff" stroke="none"/>
<path d="M143.4 293.3 L144.2 291.7" fill="none" stroke="#3c3c3c" stroke-width="0.85" />
<path d="M169.0 334.7 L167.3 334.6" fill="none" stroke="#3c3c3c" stroke-width="0.85" />
<path d="M143.4 293.3 L145.0 292.5 L146.9 292.2 L148.8 292.2 L150.9 292.6 L153.1 293.3 L155.3 294.4 L157.5 295.9 L159.7 297.6 L161.8 299.7 L163.7 301.9 L165.6 304.4 L167.2 307.1 L168.7 309.8 L169.9 312.6 L170.9 315.5 L171.6 318.3 L172.1 321.1 L172.2 323.7 L172.1 326.2 L171.6 328.4 L170.9 330.4 L169.9 332.2 L168.7 333.6 L167.3 334.6 L164.7 333.1 L163.2 333.8 L161.5 334.1 L159.8 334.1 L157.9 333.7 L156.0 333.1 L154.0 332.1 L152.0 330.8 L150.1 329.2 L148.2 327.4 L146.5 325.4 L144.8 323.2 L143.4 320.8 L142.1 318.4 L141.0 315.9 L140.1 313.3 L139.5 310.8 L139.1 308.3 L138.9 306.0 L139.1 303.8 L139.5 301.8 L140.1 300.0 L141.0 298.5 L142.1 297.2 L143.4 296.3Z" fill="#fff" stroke="none"/>
<path d="M143.4 296.3 L143.4 293.3" fill="none" stroke="#3c3c3c" stroke-width="0.85" />
<path d="M167.3 334.6 L164.7 333.1" fill="none" stroke="#3c3c3c" stroke-width="0.85" />
<path d="M139.7 297.9 L141.1 297.3 L142.7 297.0 L144.5 297.0 L146.3 297.3 L148.2 298.0 L150.1 299.0 L152.0 300.2 L153.9 301.7 L155.7 303.5 L157.4 305.5 L159.0 307.6 L160.5 309.9 L161.8 312.4 L162.8 314.8 L163.7 317.3 L164.3 319.8 L164.7 322.2 L164.8 324.4 L164.7 326.6 L164.3 328.5 L163.7 330.3 L162.8 331.8 L161.8 333.0 L160.5 334.0 L148.8 340.7 L147.4 341.3 L145.8 341.7 L144.0 341.6 L142.2 341.3 L140.3 340.6 L138.4 339.7 L136.5 338.4 L134.6 336.9 L132.8 335.1 L131.1 333.2 L129.5 331.0 L128.0 328.7 L126.7 326.3 L125.7 323.8 L124.8 321.4 L124.2 318.9 L123.8 316.5 L123.7 314.2 L123.8 312.1 L124.2 310.1 L124.8 308.4 L125.7 306.9 L126.7 305.6 L128.0 304.7Z" fill="#fff" stroke="none"/>
<path d="M128.0 304.7 L139.7 297.9 L141.1 297.3 L142.7 297.0 L144.5 297.0 L146.3 297.3 L148.2 298.0 L150.1 299.0 L152.0 300.2 L153.9 301.7 L155.7 303.5 L157.4 305.5 L159.0 307.6 L160.5 309.9 L161.8 312.4 L162.8 314.8 L163.7 317.3 L164.3 319.8 L164.7 322.2 L164.8 324.4 L164.7 326.6 L164.3 328.5 L163.7 330.3 L162.8 331.8 L161.8 333.0 L160.5 334.0 L148.8 340.7" fill="none" stroke="#3c3c3c" stroke-width="0.85" />
<path d="M128.0 304.7 L129.4 304.1 L131.0 303.7 L132.8 303.8 L134.6 304.1 L136.5 304.8 L138.4 305.7 L140.3 307.0 L142.2 308.5 L144.0 310.3 L145.7 312.2 L147.3 314.4 L148.8 316.7 L150.1 319.1 L151.1 321.6 L152.0 324.0 L152.6 326.5 L153.0 328.9 L153.1 331.2 L153.0 333.3 L152.6 335.3 L152.0 337.0 L151.1 338.5 L150.1 339.8 L148.8 340.7 L145.6 341.2 L144.2 341.8 L142.7 342.1 L141.1 342.0 L139.4 341.7 L137.6 341.1 L135.8 340.2 L134.0 339.0 L132.2 337.6 L130.5 335.9 L128.9 334.1 L127.4 332.0 L126.0 329.9 L124.8 327.6 L123.8 325.3 L123.0 322.9 L122.4 320.6 L122.1 318.4 L121.9 316.2 L122.1 314.2 L122.4 312.3 L123.0 310.7 L123.8 309.3 L124.8 308.1 L126.0 307.2Z" fill="#fff" stroke="none"/>
<path d="M126.0 307.2 L128.0 304.7 L129.4 304.1 L131.0 303.7 L132.8 303.8 L134.6 304.1 L136.5 304.8 L138.4 305.7 L140.3 307.0 L142.2 308.5 L144.0 310.3 L145.7 312.2 L147.3 314.4 L148.8 316.7 L150.1 319.1 L151.1 321.6 L152.0 324.0 L152.6 326.5 L153.0 328.9 L153.1 331.2 L153.0 333.3 L152.6 335.3 L152.0 337.0 L151.1 338.5 L150.1 339.8 L148.8 340.7 L145.6 341.2" fill="none" stroke="#3c3c3c" stroke-width="0.85" />
<path d="M127.6 304.8 L129.1 304.2 L130.7 303.9 L132.4 303.9 L134.2 304.2 L136.1 304.9 L138.0 305.8 L140.0 307.1 L141.9 308.6 L143.7 310.4 L145.4 312.4 L147.0 314.6 L148.5 316.9 L149.8 319.3 L150.8 321.8 L151.7 324.3 L152.3 326.7 L152.7 329.1 L152.8 331.4 L152.7 333.6 L152.3 335.6 L151.7 337.3 L150.8 338.8 L149.8 340.1 L148.5 341.0" fill="none" stroke="#3c3c3c" stroke-width="0.9" />
<path d="M129.2 304.9 L130.6 304.3 L132.1 304.0 L133.8 304.0 L135.5 304.4 L137.3 305.0 L139.2 305.9 L141.0 307.1 L142.8 308.6 L144.6 310.3 L146.2 312.2 L147.8 314.3 L149.2 316.5 L150.4 318.8 L151.4 321.2 L152.2 323.5 L152.8 325.9 L153.2 328.2 L153.3 330.4 L153.2 332.5 L152.8 334.4 L152.2 336.0 L151.4 337.5 L150.4 338.7 L149.2 339.6" fill="none" stroke="#3c3c3c" stroke-width="0.45" />
<path d="M130.2 303.3 L131.7 302.7 L133.3 302.4 L135.0 302.4 L136.8 302.7 L138.7 303.4 L140.6 304.3 L142.6 305.6 L144.5 307.1 L146.3 308.9 L148.0 310.9 L149.6 313.1 L151.1 315.4 L152.4 317.8 L153.4 320.3 L154.3 322.8 L154.9 325.2 L155.3 327.6 L155.4 329.9 L155.3 332.1 L154.9 334.1 L154.3 335.8 L153.4 337.3 L152.4 338.6 L151.1 339.5" fill="none" stroke="#3c3c3c" stroke-width="0.9" />
<path d="M131.8 303.4 L133.2 302.8 L134.7 302.5 L136.4 302.5 L138.1 302.9 L139.9 303.5 L141.8 304.4 L143.6 305.6 L145.4 307.1 L147.2 308.8 L148.8 310.7 L150.4 312.8 L151.8 315.0 L153.0 317.3 L154.0 319.7 L154.8 322.0 L155.4 324.4 L155.8 326.7 L155.9 328.9 L155.8 331.0 L155.4 332.9 L154.8 334.5 L154.0 336.0 L153.0 337.2 L151.8 338.1" fill="none" stroke="#3c3c3c" stroke-width="0.45" />
<path d="M132.8 301.8 L134.3 301.2 L135.9 300.9 L137.6 300.9 L139.4 301.2 L141.3 301.9 L143.2 302.8 L145.2 304.1 L147.1 305.6 L148.9 307.4 L150.6 309.4 L152.2 311.6 L153.7 313.9 L155.0 316.3 L156.0 318.8 L156.9 321.3 L157.5 323.7 L157.9 326.1 L158.0 328.4 L157.9 330.6 L157.5 332.6 L156.9 334.3 L156.0 335.8 L155.0 337.1 L153.7 338.0" fill="none" stroke="#3c3c3c" stroke-width="0.9" />
<path d="M134.4 301.9 L135.8 301.3 L137.3 301.0 L139.0 301.0 L140.7 301.4 L142.5 302.0 L144.4 302.9 L146.2 304.1 L148.0 305.6 L149.8 307.3 L151.4 309.2 L153.0 311.3 L154.4 313.5 L155.6 315.8 L156.6 318.2 L157.4 320.5 L158.0 322.9 L158.4 325.2 L158.5 327.4 L158.4 329.5 L158.0 331.4 L157.4 333.0 L156.6 334.5 L155.6 335.7 L154.4 336.6" fill="none" stroke="#3c3c3c" stroke-width="0.45" />
<path d="M135.4 300.3 L136.8 299.7 L138.5 299.4 L140.2 299.4 L142.0 299.7 L143.9 300.4 L145.8 301.3 L147.8 302.6 L149.7 304.1 L151.5 305.9 L153.2 307.9 L154.8 310.1 L156.3 312.4 L157.6 314.8 L158.6 317.3 L159.5 319.8 L160.1 322.2 L160.5 324.6 L160.6 326.9 L160.5 329.1 L160.1 331.1 L159.5 332.8 L158.6 334.3 L157.6 335.6 L156.3 336.5" fill="none" stroke="#3c3c3c" stroke-width="0.9" />
<path d="M137.0 300.4 L138.4 299.8 L139.9 299.5 L141.6 299.5 L143.3 299.9 L145.1 300.5 L147.0 301.4 L148.8 302.6 L150.6 304.1 L152.4 305.8 L154.0 307.7 L155.6 309.8 L157.0 312.0 L158.2 314.3 L159.2 316.7 L160.0 319.0 L160.6 321.4 L161.0 323.7 L161.1 325.9 L161.0 328.0 L160.6 329.9 L160.0 331.5 L159.2 333.0 L158.2 334.2 L157.0 335.1" fill="none" stroke="#3c3c3c" stroke-width="0.45" />
<path d="M138.0 298.8 L139.4 298.2 L141.1 297.9 L142.8 297.9 L144.6 298.2 L146.5 298.9 L148.4 299.8 L150.4 301.1 L152.3 302.6 L154.1 304.4 L155.8 306.4 L157.4 308.6 L158.9 310.9 L160.2 313.3 L161.2 315.8 L162.1 318.3 L162.7 320.7 L163.1 323.1 L163.2 325.4 L163.1 327.6 L162.7 329.6 L162.1 331.3 L161.2 332.8 L160.2 334.1 L158.9 335.0" fill="none" stroke="#3c3c3c" stroke-width="0.9" />
<path d="M139.6 298.9 L141.0 298.3 L142.5 298.0 L144.2 298.0 L145.9 298.4 L147.7 299.0 L149.6 299.9 L151.4 301.1 L153.2 302.6 L155.0 304.3 L156.6 306.2 L158.2 308.3 L159.6 310.5 L160.8 312.8 L161.8 315.2 L162.6 317.5 L163.2 319.9 L163.6 322.2 L163.7 324.4 L163.6 326.5 L163.2 328.4 L162.6 330.0 L161.8 331.5 L160.8 332.7 L159.6 333.6" fill="none" stroke="#3c3c3c" stroke-width="0.45" />
<ellipse cx="135.8" cy="324.2" rx="11.3" ry="19.6" transform="rotate(-30 135.8 324.2)" fill="#fff" stroke="#3c3c3c" stroke-width="0.85"/>
<ellipse cx="136.2" cy="324.2" rx="9.9" ry="17.2" transform="rotate(-30 136.2 324.2)" fill="none" stroke="#3c3c3c" stroke-width="0.85"/>
<ellipse cx="136.6" cy="324.4" rx="7.8" ry="13.6" transform="rotate(-30 136.6 324.4)" fill="none" stroke="#3c3c3c" stroke-width="0.85"/>
<ellipse cx="136.0" cy="325.0" rx="5.1" ry="8.8" transform="rotate(-30 136.0 325.0)" fill="none" stroke="#3c3c3c" stroke-width="0.85"/>
<path d="M136.0 325.0 L132.60000000000002 318.9 M136.0 325.0 L140.20000000000002 327.59999999999997 M136.0 325.0 L132.20000000000002 329.59999999999997" fill="none" stroke="#3c3c3c" stroke-width="0.5" />
<path d="M174.2 319.5 C174 315 178 311.5 183 309.8 L189.6 308.6 C190.5 312 189.5 319 186 325 L176.6 329.2 C175 327 174.3 323 174.2 319.5Z" fill="#fff" stroke="#3c3c3c" stroke-width="0.85" />
<path d="M187 309.3 C186.6 314 186.8 319 186 325" fill="none" stroke="#3c3c3c" stroke-width="0.5" />
<ellipse cx="218.3" cy="298.7" rx="2.3" ry="3.8" transform="rotate(-30 218.3 298.7)" fill="#fff" stroke="#3c3c3c" stroke-width="0.85"/>
<path d="M87.5 324.8 L89.1 324.1 L90.8 323.8 L92.7 323.8 L94.6 324.2 L96.7 324.9 L98.7 325.9 L100.8 327.3 L102.9 328.9 L104.8 330.8 L106.7 333.0 L108.4 335.3 L110.0 337.8 L111.4 340.4 L112.5 343.1 L113.4 345.8 L114.1 348.4 L114.5 351.0 L114.7 353.5 L114.5 355.8 L114.1 357.9 L113.4 359.8 L112.5 361.4 L111.4 362.8 L110.0 363.8 L85.8 377.8 L84.2 378.5 L82.5 378.8 L80.6 378.8 L78.6 378.4 L76.6 377.7 L74.5 376.7 L72.4 375.3 L70.4 373.7 L68.4 371.8 L66.6 369.6 L64.8 367.3 L63.3 364.8 L61.9 362.2 L60.7 359.5 L59.8 356.8 L59.1 354.2 L58.7 351.6 L58.6 349.1 L58.7 346.8 L59.1 344.7 L59.8 342.8 L60.7 341.2 L61.9 339.8 L63.2 338.8Z" fill="#fff" stroke="none"/>
<path d="M63.2 338.8 L87.5 324.8 L89.1 324.1 L90.8 323.8 L92.7 323.8 L94.6 324.2 L96.7 324.9 L98.7 325.9 L100.8 327.3 L102.9 328.9 L104.8 330.8 L106.7 333.0 L108.4 335.3 L110.0 337.8 L111.4 340.4 L112.5 343.1 L113.4 345.8 L114.1 348.4 L114.5 351.0 L114.7 353.5 L114.5 355.8 L114.1 357.9 L113.4 359.8 L112.5 361.4 L111.4 362.8 L110.0 363.8 L85.8 377.8" fill="none" stroke="#3c3c3c" stroke-width="0.85" />
<path d="M65.9 337.3 L67.5 336.6 L69.2 336.2 L71.1 336.3 L73.1 336.6 L75.1 337.3 L77.2 338.4 L79.3 339.7 L81.3 341.4 L83.3 343.3 L85.1 345.4 L86.9 347.8 L88.4 350.3 L89.8 352.9 L91.0 355.5 L91.9 358.2 L92.6 360.9 L93.0 363.5 L93.1 365.9 L93.0 368.3 L92.6 370.4 L91.9 372.3 L91.0 373.9 L89.8 375.2 L88.4 376.2" fill="none" stroke="#3c3c3c" stroke-width="0.7" />
<path d="M64.7 338.0 L66.3 337.3 L68.0 336.9 L69.9 337.0 L71.9 337.3 L73.9 338.0 L76.0 339.1 L78.1 340.4 L80.1 342.1 L82.1 344.0 L83.9 346.1 L85.7 348.5 L87.2 351.0 L88.6 353.6 L89.8 356.2 L90.7 358.9 L91.3 361.6 L91.8 364.2 L91.9 366.6 L91.8 369.0 L91.3 371.1 L90.7 373.0 L89.8 374.6 L88.6 375.9 L87.2 376.9" fill="none" stroke="#666" stroke-width="0.4" />
<path d="M68.6 335.7 L70.2 335.0 L71.9 334.7 L73.8 334.7 L75.8 335.1 L77.8 335.8 L79.9 336.8 L82.0 338.2 L84.0 339.8 L86.0 341.7 L87.8 343.9 L89.6 346.2 L91.1 348.7 L92.5 351.3 L93.7 354.0 L94.6 356.6 L95.3 359.3 L95.7 361.9 L95.8 364.4 L95.7 366.7 L95.3 368.8 L94.6 370.7 L93.7 372.3 L92.5 373.7 L91.1 374.7" fill="none" stroke="#3c3c3c" stroke-width="0.7" />
<path d="M67.4 336.4 L69.0 335.7 L70.7 335.4 L72.6 335.4 L74.6 335.8 L76.6 336.5 L78.7 337.5 L80.7 338.9 L82.8 340.5 L84.8 342.4 L86.6 344.6 L88.4 346.9 L89.9 349.4 L91.3 352.0 L92.4 354.7 L93.4 357.3 L94.0 360.0 L94.4 362.6 L94.6 365.1 L94.4 367.4 L94.0 369.5 L93.4 371.4 L92.5 373.0 L91.3 374.4 L89.9 375.4" fill="none" stroke="#666" stroke-width="0.4" />
<path d="M71.3 334.1 L72.9 333.5 L74.6 333.1 L76.5 333.1 L78.5 333.5 L80.5 334.2 L82.6 335.3 L84.7 336.6 L86.7 338.3 L88.7 340.2 L90.5 342.3 L92.3 344.7 L93.8 347.1 L95.2 349.7 L96.4 352.4 L97.3 355.1 L97.9 357.8 L98.4 360.3 L98.5 362.8 L98.4 365.1 L97.9 367.3 L97.3 369.2 L96.4 370.8 L95.2 372.1 L93.8 373.1" fill="none" stroke="#3c3c3c" stroke-width="0.7" />
<path d="M70.1 334.8 L71.7 334.2 L73.4 333.8 L75.3 333.8 L77.2 334.2 L79.3 334.9 L81.4 336.0 L83.4 337.3 L85.5 339.0 L87.5 340.9 L89.3 343.0 L91.0 345.4 L92.6 347.8 L94.0 350.4 L95.1 353.1 L96.1 355.8 L96.7 358.5 L97.1 361.0 L97.3 363.5 L97.1 365.8 L96.7 368.0 L96.1 369.9 L95.1 371.5 L94.0 372.8 L92.6 373.8" fill="none" stroke="#666" stroke-width="0.4" />
<path d="M74.0 332.6 L75.6 331.9 L77.3 331.6 L79.2 331.6 L81.2 332.0 L83.2 332.7 L85.3 333.7 L87.3 335.1 L89.4 336.7 L91.4 338.6 L93.2 340.8 L95.0 343.1 L96.5 345.6 L97.9 348.2 L99.0 350.9 L100.0 353.5 L100.6 356.2 L101.0 358.8 L101.2 361.3 L101.0 363.6 L100.6 365.7 L100.0 367.6 L99.1 369.2 L97.9 370.5 L96.5 371.6" fill="none" stroke="#3c3c3c" stroke-width="0.7" />
<path d="M72.8 333.3 L74.4 332.6 L76.1 332.3 L78.0 332.3 L79.9 332.7 L82.0 333.4 L84.1 334.4 L86.1 335.8 L88.2 337.4 L90.1 339.3 L92.0 341.5 L93.7 343.8 L95.3 346.3 L96.7 348.9 L97.8 351.6 L98.8 354.2 L99.4 356.9 L99.8 359.5 L100.0 362.0 L99.8 364.3 L99.4 366.4 L98.8 368.3 L97.8 369.9 L96.7 371.2 L95.3 372.3" fill="none" stroke="#666" stroke-width="0.4" />
<path d="M76.7 331.0 L78.3 330.4 L80.0 330.0 L81.9 330.0 L83.8 330.4 L85.9 331.1 L88.0 332.2 L90.0 333.5 L92.1 335.2 L94.1 337.1 L95.9 339.2 L97.6 341.5 L99.2 344.0 L100.6 346.6 L101.7 349.3 L102.7 352.0 L103.3 354.6 L103.7 357.2 L103.9 359.7 L103.7 362.0 L103.3 364.2 L102.7 366.0 L101.7 367.7 L100.6 369.0 L99.2 370.0" fill="none" stroke="#3c3c3c" stroke-width="0.7" />
<path d="M75.5 331.7 L77.1 331.1 L78.8 330.7 L80.7 330.7 L82.6 331.1 L84.7 331.8 L86.8 332.9 L88.8 334.2 L90.9 335.9 L92.8 337.8 L94.7 339.9 L96.4 342.2 L98.0 344.7 L99.4 347.3 L100.5 350.0 L101.5 352.7 L102.1 355.3 L102.5 357.9 L102.7 360.4 L102.5 362.7 L102.1 364.9 L101.5 366.7 L100.5 368.4 L99.4 369.7 L98.0 370.7" fill="none" stroke="#666" stroke-width="0.4" />
<path d="M79.4 329.5 L81.0 328.8 L82.7 328.5 L84.6 328.5 L86.5 328.8 L88.6 329.6 L90.7 330.6 L92.7 332.0 L94.8 333.6 L96.7 335.5 L98.6 337.7 L100.3 340.0 L101.9 342.5 L103.3 345.1 L104.4 347.7 L105.4 350.4 L106.0 353.1 L106.4 355.7 L106.6 358.2 L106.4 360.5 L106.0 362.6 L105.4 364.5 L104.4 366.1 L103.3 367.4 L101.9 368.5" fill="none" stroke="#3c3c3c" stroke-width="0.7" />
<path d="M78.2 330.2 L79.8 329.5 L81.5 329.2 L83.4 329.2 L85.3 329.5 L87.4 330.3 L89.4 331.3 L91.5 332.7 L93.6 334.3 L95.5 336.2 L97.4 338.4 L99.1 340.7 L100.7 343.2 L102.1 345.8 L103.2 348.4 L104.1 351.1 L104.8 353.8 L105.2 356.4 L105.4 358.9 L105.2 361.2 L104.8 363.3 L104.1 365.2 L103.2 366.8 L102.1 368.1 L100.7 369.2" fill="none" stroke="#666" stroke-width="0.4" />
<path d="M82.1 327.9 L83.7 327.2 L85.4 326.9 L87.3 326.9 L89.2 327.3 L91.3 328.0 L93.4 329.0 L95.4 330.4 L97.5 332.0 L99.4 334.0 L101.3 336.1 L103.0 338.4 L104.6 340.9 L106.0 343.5 L107.1 346.2 L108.1 348.9 L108.7 351.5 L109.1 354.1 L109.3 356.6 L109.1 358.9 L108.7 361.0 L108.1 362.9 L107.1 364.6 L106.0 365.9 L104.6 366.9" fill="none" stroke="#3c3c3c" stroke-width="0.7" />
<path d="M80.9 328.6 L82.5 327.9 L84.2 327.6 L86.1 327.6 L88.0 328.0 L90.1 328.7 L92.1 329.7 L94.2 331.1 L96.3 332.7 L98.2 334.7 L100.1 336.8 L101.8 339.1 L103.4 341.6 L104.8 344.2 L105.9 346.9 L106.8 349.6 L107.5 352.2 L107.9 354.8 L108.1 357.3 L107.9 359.6 L107.5 361.7 L106.8 363.6 L105.9 365.3 L104.8 366.6 L103.4 367.6" fill="none" stroke="#666" stroke-width="0.4" />
<path d="M84.8 326.4 L86.4 325.7 L88.1 325.4 L90.0 325.4 L91.9 325.7 L94.0 326.4 L96.0 327.5 L98.1 328.8 L100.2 330.5 L102.1 332.4 L104.0 334.5 L105.7 336.9 L107.3 339.4 L108.7 342.0 L109.8 344.6 L110.7 347.3 L111.4 350.0 L111.8 352.6 L112.0 355.0 L111.8 357.4 L111.4 359.5 L110.8 361.4 L109.8 363.0 L108.7 364.3 L107.3 365.3" fill="none" stroke="#3c3c3c" stroke-width="0.7" />
<path d="M83.6 327.1 L85.2 326.4 L86.9 326.1 L88.8 326.1 L90.7 326.4 L92.8 327.1 L94.8 328.2 L96.9 329.5 L99.0 331.2 L100.9 333.1 L102.8 335.2 L104.5 337.6 L106.1 340.1 L107.5 342.7 L108.6 345.3 L109.5 348.0 L110.2 350.7 L110.6 353.3 L110.7 355.7 L110.6 358.1 L110.2 360.2 L109.5 362.1 L108.6 363.7 L107.5 365.0 L106.1 366.0" fill="none" stroke="#666" stroke-width="0.4" />
<ellipse cx="74.5" cy="358.3" rx="13.0" ry="22.5" transform="rotate(-30 74.5 358.3)" fill="#fff" stroke="#3c3c3c" stroke-width="0.8"/>
<clipPath id="spr"><ellipse cx="74.5" cy="358.3" rx="11.48" ry="19.9" transform="rotate(-30 74.5 358.3)"/></clipPath>
<g clip-path="url(#spr)">
<ellipse cx="77.1" cy="356.8" rx="11.5" ry="19.9" transform="rotate(-30 77.1 356.8)" fill="none" stroke="#3c3c3c" stroke-width="0.6"/>
<ellipse cx="79.7" cy="355.3" rx="11.5" ry="19.9" transform="rotate(-30 79.7 355.3)" fill="none" stroke="#3c3c3c" stroke-width="0.6"/>
<ellipse cx="82.3" cy="353.8" rx="11.5" ry="19.9" transform="rotate(-30 82.3 353.8)" fill="none" stroke="#3c3c3c" stroke-width="0.6"/>
<ellipse cx="84.9" cy="352.3" rx="11.5" ry="19.9" transform="rotate(-30 84.9 352.3)" fill="none" stroke="#3c3c3c" stroke-width="0.6"/>
<ellipse cx="87.5" cy="350.8" rx="11.5" ry="19.9" transform="rotate(-30 87.5 350.8)" fill="none" stroke="#3c3c3c" stroke-width="0.6"/>
</g>
<ellipse cx="74.5" cy="358.3" rx="11.5" ry="19.9" transform="rotate(-30 74.5 358.3)" fill="none" stroke="#3c3c3c" stroke-width="0.6"/>
<path d="M58.8 370 C56.5 366 55.5 361 56.2 357 C57.5 353 62 352.5 65.5 354 C70 356 72.5 361 72.8 366 L73.4 374" fill="none" stroke="#3c3c3c" stroke-width="3.6" />
<path d="M58.8 370 C56.5 366 55.5 361 56.2 357 C57.5 353 62 352.5 65.5 354 C70 356 72.5 361 72.8 366 L73.4 374" fill="none" stroke="#fff" stroke-width="2.0" />
<path d="M66 383.5 L70 389.5 C73 391.5 79 392 83 390.5 C86.5 388.5 87 384 84 377.5" fill="none" stroke="#3c3c3c" stroke-width="3.6" />
<path d="M66 383.5 L70 389.5 C73 391.5 79 392 83 390.5 C86.5 388.5 87 384 84 377.5" fill="none" stroke="#fff" stroke-width="2.0" />
<path d="M89 377.5 C90 381 93.5 382.5 96.5 381 C99 379.5 100 377.5 100 375" fill="none" stroke="#3c3c3c" stroke-width="3.6" />
<path d="M89 377.5 C90 381 93.5 382.5 96.5 381 C99 379.5 100 377.5 100 375" fill="none" stroke="#fff" stroke-width="2.0" />
<path d="M256.4 347.6 L256.9 347.4 L257.4 347.3 L258.0 347.3 L258.6 347.4 L259.2 347.6 L259.8 347.9 L260.5 348.4 L261.1 348.9 L261.7 349.4 L262.2 350.1 L262.8 350.8 L263.2 351.5 L263.6 352.3 L264.0 353.1 L264.3 353.9 L264.5 354.7 L264.6 355.5 L264.6 356.3 L264.6 357.0 L264.5 357.6 L264.3 358.2 L264.0 358.7 L263.7 359.1 L263.2 359.4 L228.6 379.4 L228.1 379.6 L227.6 379.7 L227.0 379.7 L226.4 379.6 L225.8 379.4 L225.2 379.1 L224.6 378.6 L224.0 378.1 L223.4 377.6 L222.8 376.9 L222.3 376.2 L221.8 375.5 L221.4 374.7 L221.0 373.9 L220.8 373.1 L220.6 372.3 L220.4 371.5 L220.4 370.7 L220.4 370.0 L220.6 369.4 L220.8 368.8 L221.0 368.3 L221.4 367.9 L221.8 367.6Z" fill="#fff" stroke="none"/>
<path d="M221.8 367.6 L256.4 347.6 L256.9 347.4 L257.4 347.3 L258.0 347.3 L258.6 347.4 L259.2 347.6 L259.8 347.9 L260.5 348.4 L261.1 348.9 L261.7 349.4 L262.2 350.1 L262.8 350.8 L263.2 351.5 L263.6 352.3 L264.0 353.1 L264.3 353.9 L264.5 354.7 L264.6 355.5 L264.6 356.3 L264.6 357.0 L264.5 357.6 L264.3 358.2 L264.0 358.7 L263.7 359.1 L263.2 359.4 L228.6 379.4" fill="none" stroke="#3c3c3c" stroke-width="0.85" />
<path d="M253.8 349.1 L254.3 348.9 L254.8 348.8 L255.4 348.8 L256.0 348.9 L256.6 349.1 L257.2 349.4 L257.9 349.9 L258.5 350.4 L259.1 350.9 L259.6 351.6 L260.2 352.3 L260.6 353.0 L261.1 353.8 L261.4 354.6 L261.7 355.4 L261.9 356.2 L262.0 357.0 L262.0 357.8 L262.0 358.5 L261.9 359.1 L261.7 359.7 L261.4 360.2 L261.1 360.6 L260.6 360.9" fill="none" stroke="#3c3c3c" stroke-width="0.5" />
<path d="M219.6 362.9 L220.5 362.5 L221.4 362.3 L222.4 362.3 L223.4 362.5 L224.5 362.9 L225.6 363.5 L226.7 364.2 L227.8 365.1 L228.9 366.1 L229.9 367.2 L230.8 368.5 L231.6 369.8 L232.4 371.2 L233.0 372.6 L233.5 374.0 L233.8 375.4 L234.0 376.8 L234.1 378.2 L234.0 379.4 L233.8 380.5 L233.5 381.5 L233.0 382.4 L232.4 383.1 L231.6 383.6 L226.0 386.9 L225.2 387.3 L224.2 387.4 L223.2 387.4 L222.2 387.2 L221.1 386.9 L220.0 386.3 L218.9 385.6 L217.8 384.7 L216.8 383.7 L215.8 382.5 L214.8 381.3 L214.0 380.0 L213.3 378.6 L212.7 377.2 L212.2 375.7 L211.8 374.3 L211.6 372.9 L211.5 371.6 L211.6 370.4 L211.8 369.2 L212.2 368.2 L212.7 367.4 L213.3 366.6 L214.0 366.1Z" fill="#fff" stroke="none"/>
<path d="M214.0 366.1 L219.6 362.9 L220.5 362.5 L221.4 362.3 L222.4 362.3 L223.4 362.5 L224.5 362.9 L225.6 363.5 L226.7 364.2 L227.8 365.1 L228.9 366.1 L229.9 367.2 L230.8 368.5 L231.6 369.8 L232.4 371.2 L233.0 372.6 L233.5 374.0 L233.8 375.4 L234.0 376.8 L234.1 378.2 L234.0 379.4 L233.8 380.5 L233.5 381.5 L233.0 382.4 L232.4 383.1 L231.6 383.6 L226.0 386.9" fill="none" stroke="#3c3c3c" stroke-width="0.85" />
<ellipse cx="220.0" cy="376.5" rx="6.9" ry="12.0" transform="rotate(-30 220.0 376.5)" fill="#fff" stroke="#3c3c3c" stroke-width="0.85"/>
<path d="M215.0 365.5 L215.9 365.1 L216.8 365.0 L217.8 365.0 L218.8 365.2 L219.9 365.5 L221.0 366.1 L222.1 366.8 L223.2 367.7 L224.3 368.7 L225.3 369.9 L226.2 371.1 L227.0 372.4 L227.8 373.8 L228.4 375.2 L228.9 376.7 L229.2 378.1 L229.4 379.5 L229.5 380.8 L229.4 382.0 L229.2 383.2 L228.9 384.2 L228.4 385.0 L227.8 385.8 L227.0 386.3" fill="none" stroke="#3c3c3c" stroke-width="0.45" />
<path d="M142.5 418.8 C141.8 418 142.3 416.6 143.6 416 L161 402.5 L214.5 370.5 L222.5 383 L167.5 415 L146 419.8 C144.5 420.3 143.2 419.8 142.5 418.8Z" fill="#fff" stroke="#3c3c3c" stroke-width="0.85" />
<path d="M161 402.5 C164.5 404.5 167.5 410 167.5 415" fill="none" stroke="#3c3c3c" stroke-width="0.6" />
<path d="M143.6 416 C145.2 416.6 146 418.2 146 419.8" fill="none" stroke="#3c3c3c" stroke-width="0.5" />
<path d="M320.2 358.6 L320.7 358.4 L321.2 358.3 L321.7 358.3 L322.3 358.4 L323.0 358.6 L323.6 358.9 L324.2 359.4 L324.8 359.9 L325.4 360.4 L326.0 361.1 L326.5 361.8 L327.0 362.5 L327.4 363.3 L327.7 364.1 L328.0 364.9 L328.2 365.7 L328.4 366.5 L328.4 367.3 L328.4 368.0 L328.2 368.6 L328.0 369.2 L327.7 369.7 L327.4 370.1 L327.0 370.4 L292.3 390.4 L291.9 390.6 L291.4 390.7 L290.8 390.7 L290.2 390.6 L289.6 390.4 L288.9 390.1 L288.3 389.6 L287.7 389.1 L287.1 388.6 L286.5 387.9 L286.0 387.2 L285.5 386.5 L285.1 385.7 L284.8 384.9 L284.5 384.1 L284.3 383.3 L284.2 382.5 L284.1 381.7 L284.2 381.0 L284.3 380.4 L284.5 379.8 L284.8 379.3 L285.1 378.9 L285.5 378.6Z" fill="#fff" stroke="none"/>
<path d="M285.5 378.6 L320.2 358.6 L320.7 358.4 L321.2 358.3 L321.7 358.3 L322.3 358.4 L323.0 358.6 L323.6 358.9 L324.2 359.4 L324.8 359.9 L325.4 360.4 L326.0 361.1 L326.5 361.8 L327.0 362.5 L327.4 363.3 L327.7 364.1 L328.0 364.9 L328.2 365.7 L328.4 366.5 L328.4 367.3 L328.4 368.0 L328.2 368.6 L328.0 369.2 L327.7 369.7 L327.4 370.1 L327.0 370.4 L292.3 390.4" fill="none" stroke="#3c3c3c" stroke-width="0.85" />
<path d="M317.6 360.1 L318.1 359.9 L318.6 359.8 L319.1 359.8 L319.7 359.9 L320.4 360.1 L321.0 360.4 L321.6 360.9 L322.2 361.4 L322.8 361.9 L323.4 362.6 L323.9 363.3 L324.4 364.0 L324.8 364.8 L325.2 365.6 L325.4 366.4 L325.6 367.2 L325.8 368.0 L325.8 368.8 L325.8 369.5 L325.6 370.1 L325.4 370.7 L325.2 371.2 L324.8 371.6 L324.4 371.9" fill="none" stroke="#3c3c3c" stroke-width="0.5" />
<path d="M283.4 373.9 L284.2 373.5 L285.1 373.3 L286.1 373.3 L287.2 373.5 L288.3 373.9 L289.4 374.5 L290.5 375.2 L291.6 376.1 L292.6 377.1 L293.6 378.2 L294.5 379.5 L295.4 380.8 L296.1 382.2 L296.7 383.6 L297.2 385.0 L297.6 386.4 L297.8 387.8 L297.9 389.2 L297.8 390.4 L297.6 391.5 L297.2 392.5 L296.7 393.4 L296.1 394.1 L295.4 394.6 L289.8 397.9 L288.9 398.3 L288.0 398.4 L287.0 398.4 L285.9 398.2 L284.9 397.9 L283.8 397.3 L282.6 396.6 L281.6 395.7 L280.5 394.7 L279.5 393.5 L278.6 392.3 L277.8 391.0 L277.0 389.6 L276.4 388.2 L275.9 386.7 L275.6 385.3 L275.3 383.9 L275.3 382.6 L275.3 381.4 L275.6 380.2 L275.9 379.2 L276.4 378.4 L277.0 377.6 L277.7 377.1Z" fill="#fff" stroke="none"/>
<path d="M277.7 377.1 L283.4 373.9 L284.2 373.5 L285.1 373.3 L286.1 373.3 L287.2 373.5 L288.3 373.9 L289.4 374.5 L290.5 375.2 L291.6 376.1 L292.6 377.1 L293.6 378.2 L294.5 379.5 L295.4 380.8 L296.1 382.2 L296.7 383.6 L297.2 385.0 L297.6 386.4 L297.8 387.8 L297.9 389.2 L297.8 390.4 L297.6 391.5 L297.2 392.5 L296.7 393.4 L296.1 394.1 L295.4 394.6 L289.8 397.9" fill="none" stroke="#3c3c3c" stroke-width="0.85" />
<ellipse cx="283.8" cy="387.5" rx="6.9" ry="12.0" transform="rotate(-30 283.8 387.5)" fill="#fff" stroke="#3c3c3c" stroke-width="0.85"/>
<path d="M278.8 376.5 L279.6 376.1 L280.5 376.0 L281.5 376.0 L282.6 376.2 L283.7 376.5 L284.8 377.1 L285.9 377.8 L287.0 378.7 L288.0 379.7 L289.0 380.9 L290.0 382.1 L290.8 383.4 L291.5 384.8 L292.1 386.2 L292.6 387.7 L293.0 389.1 L293.2 390.5 L293.3 391.8 L293.2 393.0 L293.0 394.2 L292.6 395.2 L292.1 396.0 L291.5 396.8 L290.8 397.3" fill="none" stroke="#3c3c3c" stroke-width="0.45" />
<path d="M212.5 417.5 L233.8 406 L255 396.5 L277.75 382.5 L285.75 394.5 L277 397 Q272 400 262 410 T250 420.5 Q232 432 213.5 440.2 L213.8 430 L212.3 424Z" fill="#fff" stroke="#3c3c3c" stroke-width="0.85" />
<path d="M233.8 406 L235.5 408.5 L277 397.5 M233.8 406 L229.5 411" fill="none" stroke="#3c3c3c" stroke-width="0.6" />
<path d="M379.5 374.9 L380.0 374.7 L380.5 374.6 L381.1 374.6 L381.7 374.7 L382.3 374.9 L382.9 375.2 L383.6 375.6 L384.2 376.1 L384.8 376.7 L385.3 377.3 L385.9 378.0 L386.3 378.8 L386.7 379.6 L387.1 380.4 L387.4 381.2 L387.6 382.0 L387.7 382.8 L387.7 383.5 L387.7 384.2 L387.6 384.9 L387.4 385.4 L387.1 385.9 L386.8 386.3 L386.3 386.6 L351.7 406.6 L351.2 406.8 L350.7 406.9 L350.1 406.9 L349.5 406.8 L348.9 406.6 L348.3 406.3 L347.7 405.9 L347.1 405.4 L346.5 404.8 L345.9 404.2 L345.4 403.5 L344.9 402.7 L344.5 401.9 L344.1 401.1 L343.9 400.3 L343.7 399.5 L343.5 398.7 L343.5 398.0 L343.5 397.3 L343.7 396.6 L343.9 396.1 L344.1 395.6 L344.5 395.2 L344.9 394.9Z" fill="#fff" stroke="none"/>
<path d="M344.9 394.9 L379.5 374.9 L380.0 374.7 L380.5 374.6 L381.1 374.6 L381.7 374.7 L382.3 374.9 L382.9 375.2 L383.6 375.6 L384.2 376.1 L384.8 376.7 L385.3 377.3 L385.9 378.0 L386.3 378.8 L386.7 379.6 L387.1 380.4 L387.4 381.2 L387.6 382.0 L387.7 382.8 L387.7 383.5 L387.7 384.2 L387.6 384.9 L387.4 385.4 L387.1 385.9 L386.8 386.3 L386.3 386.6 L351.7 406.6" fill="none" stroke="#3c3c3c" stroke-width="0.85" />
<path d="M376.9 376.4 L377.4 376.2 L377.9 376.1 L378.5 376.1 L379.1 376.2 L379.7 376.4 L380.3 376.7 L381.0 377.1 L381.6 377.6 L382.2 378.2 L382.7 378.8 L383.3 379.5 L383.7 380.3 L384.2 381.1 L384.5 381.9 L384.8 382.7 L385.0 383.5 L385.1 384.3 L385.1 385.0 L385.1 385.7 L385.0 386.4 L384.8 386.9 L384.5 387.4 L384.2 387.8 L383.7 388.1" fill="none" stroke="#3c3c3c" stroke-width="0.5" />
<path d="M342.7 390.1 L343.6 389.7 L344.5 389.6 L345.5 389.6 L346.5 389.8 L347.6 390.1 L348.7 390.7 L349.8 391.4 L350.9 392.3 L352.0 393.3 L353.0 394.5 L353.9 395.7 L354.7 397.0 L355.5 398.4 L356.1 399.8 L356.6 401.3 L356.9 402.7 L357.1 404.1 L357.2 405.4 L357.1 406.6 L356.9 407.8 L356.6 408.8 L356.1 409.6 L355.5 410.4 L354.7 410.9 L349.1 414.1 L348.3 414.5 L347.3 414.7 L346.3 414.7 L345.3 414.5 L344.2 414.1 L343.1 413.5 L342.0 412.8 L340.9 411.9 L339.9 410.9 L338.9 409.8 L337.9 408.5 L337.1 407.2 L336.4 405.8 L335.8 404.4 L335.3 403.0 L334.9 401.6 L334.7 400.2 L334.6 398.8 L334.7 397.6 L334.9 396.5 L335.3 395.5 L335.8 394.6 L336.4 393.9 L337.1 393.4Z" fill="#fff" stroke="none"/>
<path d="M337.1 393.4 L342.7 390.1 L343.6 389.7 L344.5 389.6 L345.5 389.6 L346.5 389.8 L347.6 390.1 L348.7 390.7 L349.8 391.4 L350.9 392.3 L352.0 393.3 L353.0 394.5 L353.9 395.7 L354.7 397.0 L355.5 398.4 L356.1 399.8 L356.6 401.3 L356.9 402.7 L357.1 404.1 L357.2 405.4 L357.1 406.6 L356.9 407.8 L356.6 408.8 L356.1 409.6 L355.5 410.4 L354.7 410.9 L349.1 414.1" fill="none" stroke="#3c3c3c" stroke-width="0.85" />
<ellipse cx="343.1" cy="403.8" rx="6.9" ry="12.0" transform="rotate(-30 343.1 403.8)" fill="#fff" stroke="#3c3c3c" stroke-width="0.85"/>
<path d="M338.1 392.8 L339.0 392.4 L339.9 392.2 L340.9 392.2 L341.9 392.4 L343.0 392.8 L344.1 393.4 L345.2 394.1 L346.3 395.0 L347.4 396.0 L348.4 397.1 L349.3 398.4 L350.1 399.7 L350.9 401.1 L351.5 402.5 L352.0 403.9 L352.3 405.3 L352.5 406.7 L352.6 408.1 L352.5 409.3 L352.3 410.4 L352.0 411.4 L351.5 412.3 L350.9 413.0 L350.1 413.5" fill="none" stroke="#3c3c3c" stroke-width="0.45" />
<path d="M271 433.8 L293.8 423.5 L337.1 398.75 L345.1 410.75 L337 414 C329 421 317 434 304 442 C292 448.5 282 452.5 271 456.5 L273.8 442.5Z" fill="#fff" stroke="#3c3c3c" stroke-width="0.85" />
<path d="M293.8 423.5 L297.5 428 L337 413.5 M297.5 428 L273.8 442.5 M293.8 423.5 L290 430" fill="none" stroke="#3c3c3c" stroke-width="0.6" />
<path d="M459.5 384.9 L460.0 384.7 L460.5 384.6 L461.1 384.6 L461.7 384.7 L462.3 384.9 L462.9 385.2 L463.6 385.6 L464.2 386.1 L464.8 386.7 L465.3 387.3 L465.9 388.0 L466.3 388.8 L466.7 389.6 L467.1 390.4 L467.4 391.2 L467.6 392.0 L467.7 392.8 L467.7 393.5 L467.7 394.2 L467.6 394.9 L467.4 395.4 L467.1 395.9 L466.8 396.3 L466.3 396.6 L431.7 416.6 L431.2 416.8 L430.7 416.9 L430.1 416.9 L429.5 416.8 L428.9 416.6 L428.3 416.3 L427.7 415.9 L427.1 415.4 L426.5 414.8 L425.9 414.2 L425.4 413.5 L424.9 412.7 L424.5 411.9 L424.1 411.1 L423.9 410.3 L423.7 409.5 L423.5 408.7 L423.5 408.0 L423.5 407.3 L423.7 406.6 L423.9 406.1 L424.1 405.6 L424.5 405.2 L424.9 404.9Z" fill="#fff" stroke="none"/>
<path d="M424.9 404.9 L459.5 384.9 L460.0 384.7 L460.5 384.6 L461.1 384.6 L461.7 384.7 L462.3 384.9 L462.9 385.2 L463.6 385.6 L464.2 386.1 L464.8 386.7 L465.3 387.3 L465.9 388.0 L466.3 388.8 L466.7 389.6 L467.1 390.4 L467.4 391.2 L467.6 392.0 L467.7 392.8 L467.7 393.5 L467.7 394.2 L467.6 394.9 L467.4 395.4 L467.1 395.9 L466.8 396.3 L466.3 396.6 L431.7 416.6" fill="none" stroke="#3c3c3c" stroke-width="0.85" />
<path d="M456.9 386.4 L457.4 386.2 L457.9 386.1 L458.5 386.1 L459.1 386.2 L459.7 386.4 L460.3 386.7 L461.0 387.1 L461.6 387.6 L462.2 388.2 L462.7 388.8 L463.3 389.5 L463.7 390.3 L464.2 391.1 L464.5 391.9 L464.8 392.7 L465.0 393.5 L465.1 394.3 L465.1 395.0 L465.1 395.7 L465.0 396.4 L464.8 396.9 L464.5 397.4 L464.2 397.8 L463.7 398.1" fill="none" stroke="#3c3c3c" stroke-width="0.5" />
<path d="M422.7 400.1 L423.6 399.7 L424.5 399.6 L425.5 399.6 L426.5 399.8 L427.6 400.1 L428.7 400.7 L429.8 401.4 L430.9 402.3 L432.0 403.3 L433.0 404.5 L433.9 405.7 L434.7 407.0 L435.5 408.4 L436.1 409.8 L436.6 411.3 L436.9 412.7 L437.1 414.1 L437.2 415.4 L437.1 416.6 L436.9 417.8 L436.6 418.8 L436.1 419.6 L435.5 420.4 L434.7 420.9 L429.1 424.1 L428.3 424.5 L427.3 424.7 L426.3 424.7 L425.3 424.5 L424.2 424.1 L423.1 423.5 L422.0 422.8 L420.9 421.9 L419.9 420.9 L418.9 419.8 L417.9 418.5 L417.1 417.2 L416.4 415.8 L415.8 414.4 L415.3 413.0 L414.9 411.6 L414.7 410.2 L414.6 408.8 L414.7 407.6 L414.9 406.5 L415.3 405.5 L415.8 404.6 L416.4 403.9 L417.1 403.4Z" fill="#fff" stroke="none"/>
<path d="M417.1 403.4 L422.7 400.1 L423.6 399.7 L424.5 399.6 L425.5 399.6 L426.5 399.8 L427.6 400.1 L428.7 400.7 L429.8 401.4 L430.9 402.3 L432.0 403.3 L433.0 404.5 L433.9 405.7 L434.7 407.0 L435.5 408.4 L436.1 409.8 L436.6 411.3 L436.9 412.7 L437.1 414.1 L437.2 415.4 L437.1 416.6 L436.9 417.8 L436.6 418.8 L436.1 419.6 L435.5 420.4 L434.7 420.9 L429.1 424.1" fill="none" stroke="#3c3c3c" stroke-width="0.85" />
<ellipse cx="423.1" cy="413.8" rx="6.9" ry="12.0" transform="rotate(-30 423.1 413.8)" fill="#fff" stroke="#3c3c3c" stroke-width="0.85"/>
<path d="M418.1 402.8 L419.0 402.4 L419.9 402.2 L420.9 402.2 L421.9 402.4 L423.0 402.8 L424.1 403.4 L425.2 404.1 L426.3 405.0 L427.4 406.0 L428.4 407.1 L429.3 408.4 L430.1 409.7 L430.9 411.1 L431.5 412.5 L432.0 413.9 L432.3 415.3 L432.5 416.7 L432.6 418.1 L432.5 419.3 L432.3 420.4 L432.0 421.4 L431.5 422.3 L430.9 423.0 L430.1 423.5" fill="none" stroke="#3c3c3c" stroke-width="0.45" />
<path d="M350 447.5 L372.5 433.8 L417.1 408.75 L425.1 420.75 L417 424 C409 431 397 445 385 452 C373 458.5 362 463 351.3 467.8Z" fill="#fff" stroke="#3c3c3c" stroke-width="0.85" />
<path d="M372.5 433.8 L374 436.5 L417 423.5 M350 447.5 L352 449 L352.8 467" fill="none" stroke="#3c3c3c" stroke-width="0.6" />
<line x1="296.0" y1="25.0" x2="317.7" y2="34.2" stroke="#3c3c3c" stroke-width="0.7"/>
<line x1="214.0" y1="87.0" x2="227.0" y2="93.0" stroke="#3c3c3c" stroke-width="0.7"/>
<line x1="157.0" y1="120.0" x2="186.0" y2="133.0" stroke="#3c3c3c" stroke-width="0.7"/>
<line x1="111.0" y1="148.0" x2="125.0" y2="155.0" stroke="#3c3c3c" stroke-width="0.7"/>
<line x1="53.3" y1="181.7" x2="79.0" y2="194.0" stroke="#3c3c3c" stroke-width="0.7"/>
<line x1="257.2" y1="157.3" x2="279.3" y2="167.2" stroke="#3c3c3c" stroke-width="0.7"/>
<line x1="145.0" y1="271.0" x2="167.5" y2="281.0" stroke="#3c3c3c" stroke-width="0.7"/>
<line x1="63.0" y1="318.0" x2="86.0" y2="327.6" stroke="#3c3c3c" stroke-width="0.7"/>
<line x1="227.5" y1="348.0" x2="248.0" y2="358.0" stroke="#3c3c3c" stroke-width="0.7"/>
<line x1="290.0" y1="361.0" x2="311.0" y2="371.0" stroke="#3c3c3c" stroke-width="0.7"/>
<line x1="351.0" y1="376.0" x2="371.0" y2="385.0" stroke="#3c3c3c" stroke-width="0.7"/>
<line x1="431.0" y1="387.5" x2="452.5" y2="396.0" stroke="#3c3c3c" stroke-width="0.7"/>
<line x1="325.8" y1="217.5" x2="346.0" y2="207.4" stroke="#3c3c3c" stroke-width="0.7"/>
<line x1="325.8" y1="217.5" x2="343.2" y2="243.2" stroke="#3c3c3c" stroke-width="0.7"/>
<line x1="317.5" y1="325.3" x2="339.5" y2="314.7" stroke="#3c3c3c" stroke-width="0.7"/>
<line x1="398.2" y1="189.8" x2="383.0" y2="205.0" stroke="#3c3c3c" stroke-width="0.7"/>
<line x1="435.0" y1="174.7" x2="452.3" y2="165.6" stroke="#3c3c3c" stroke-width="0.7"/>
<line x1="414.0" y1="195.3" x2="408.0" y2="214.8" stroke="#3c3c3c" stroke-width="0.7"/>
<line x1="442.6" y1="223.4" x2="471.8" y2="210.4" stroke="#3c3c3c" stroke-width="0.7"/>
<line x1="462.5" y1="240.5" x2="487.5" y2="229.5" stroke="#3c3c3c" stroke-width="0.7"/>
<line x1="482.5" y1="257.5" x2="503.8" y2="247.0" stroke="#3c3c3c" stroke-width="0.7"/>
<line x1="497.5" y1="275.5" x2="518.8" y2="265.8" stroke="#3c3c3c" stroke-width="0.7"/>
<line x1="527.5" y1="303.8" x2="547.5" y2="294.5" stroke="#3c3c3c" stroke-width="0.7"/>
<line x1="543.8" y1="326.0" x2="565.0" y2="316.0" stroke="#3c3c3c" stroke-width="0.7"/>
<text x="278.5" y="22.7" font-size="12" fill="#666" >16</text>
<text x="202.0" y="86.0" font-size="12" fill="#666" >2</text>
<text x="145.6" y="121.0" font-size="12" fill="#666" >3</text>
<text x="100.4" y="147.0" font-size="12" fill="#666" >4</text>
<text x="36.2" y="181.7" font-size="12" fill="#666" >17</text>
<text x="246.3" y="158.0" font-size="12" fill="#666" >7</text>
<text x="128.5" y="270.0" font-size="12" fill="#666" >18</text>
<text x="53.5" y="316.0" font-size="12" fill="#666" >1</text>
<text x="213.3" y="347.5" font-size="12" fill="#666" >19</text>
<text x="273.0" y="361.0" font-size="12" fill="#666" >20</text>
<text x="336.0" y="376.0" font-size="12" fill="#666" >21</text>
<text x="415.0" y="387.5" font-size="12" fill="#666" >22</text>
<text x="308.0" y="221.2" font-size="12" fill="#666" >15</text>
<text x="298.0" y="327.5" font-size="12" fill="#666" >14</text>
<text x="372.0" y="218.0" font-size="12" fill="#666" >8</text>
<text x="458.2" y="167.0" font-size="12" fill="#666" >8−1</text>
<text x="394.5" y="230.0" font-size="12" fill="#666" >10A</text>
<text x="475.5" y="211.5" font-size="12" fill="#666" >10</text>
<text x="490.5" y="227.7" font-size="12" fill="#666" >10A</text>
<text x="507.0" y="246.0" font-size="12" fill="#666" >9</text>
<text x="524.0" y="265.0" font-size="12" fill="#666" >11</text>
<text x="549.5" y="295.0" font-size="12" fill="#666" >12</text>
<text x="569.0" y="315.5" font-size="12" fill="#666" >13</text>
<line x1="50.0" y1="439.0" x2="600.0" y2="440.5" stroke="#eadfd8" stroke-width="0.8"/>
</svg>
<div class="ln" style="left:4.0px;top:574.05px;width:593.5px;height:1.5px;background:#3a3a3a"></div>
<div class="ln" style="left:4.5px;top:600.10px;width:592.5px;height:1.0px;background:#484848"></div>
<div class="ln" style="left:4.5px;top:617.76px;width:592.5px;height:1px;background:#484848"></div>
<div class="ln" style="left:4.5px;top:635.42px;width:592.5px;height:1px;background:#484848"></div>
<div class="ln" style="left:4.5px;top:653.08px;width:592.5px;height:1px;background:#484848"></div>
<div class="ln" style="left:4.5px;top:670.74px;width:592.5px;height:1px;background:#484848"></div>
<div class="ln" style="left:4.5px;top:688.40px;width:592.5px;height:1px;background:#484848"></div>
<div class="ln" style="left:4.5px;top:706.06px;width:592.5px;height:1px;background:#484848"></div>
<div class="ln" style="left:4.5px;top:723.72px;width:592.5px;height:1px;background:#484848"></div>
<div class="ln" style="left:4.5px;top:741.38px;width:592.5px;height:1px;background:#484848"></div>
<div class="ln" style="left:4.5px;top:759.04px;width:592.5px;height:1px;background:#484848"></div>
<div class="ln" style="left:4.5px;top:776.70px;width:592.5px;height:1px;background:#484848"></div>
<div class="ln" style="left:4.5px;top:794.36px;width:297.5px;height:1px;background:#484848"></div>
<div class="ln" style="left:4.5px;top:812.02px;width:592.5px;height:1px;background:#484848"></div>
<div class="ln" style="left:4.5px;top:829.58px;width:592.5px;height:1.2px;background:#484848"></div>
<div class="ln" style="left:3.90px;top:574.80px;width:1.2px;height:255.38px;background:#484848"></div>
<div class="ln" style="left:39.00px;top:574.80px;width:1.0px;height:255.38px;background:#484848"></div>
<div class="ln" style="left:105.50px;top:574.80px;width:1.0px;height:255.38px;background:#484848"></div>
<div class="ln" style="left:267.50px;top:574.80px;width:1.0px;height:255.38px;background:#484848"></div>
<div class="ln" style="left:300.90px;top:574.80px;width:2.2px;height:255.38px;background:#5a5a5a"></div>
<div class="ln" style="left:336.30px;top:574.80px;width:1.0px;height:255.38px;background:#484848"></div>
<div class="ln" style="left:402.00px;top:574.80px;width:1.0px;height:255.38px;background:#484848"></div>
<div class="ln" style="left:564.30px;top:574.80px;width:1.0px;height:255.38px;background:#484848"></div>
<div class="ln" style="left:596.40px;top:574.80px;width:1.2px;height:255.38px;background:#484848"></div>
<div class="c h" style="left:4.5px;top:574.80px;width:35.0px;height:25.80px;line-height:25.80px;text-align:center;">序號</div>
<div class="c h" style="left:39.5px;top:574.80px;width:66.5px;height:25.80px;line-height:25.80px;text-align:center;">零件號碼</div>
<div class="c h" style="left:268px;top:574.80px;width:34px;height:25.80px;line-height:25.80px;text-align:center;">數量</div>
<div class="c h" style="left:302px;top:574.80px;width:34.80000000000001px;height:25.80px;line-height:25.80px;text-align:center;">序號</div>
<div class="c h" style="left:336.8px;top:574.80px;width:65.69999999999999px;height:25.80px;line-height:25.80px;text-align:center;">零件號碼</div>
<div class="c h" style="left:564.8px;top:574.80px;width:32.200000000000045px;height:25.80px;line-height:25.80px;text-align:center;">數量</div>
<div class="c h" style="left:148px;top:574.8px;height:25.800000000000068px;line-height:25.800000000000068px;width:14px;text-align:center">品</div>
<div class="c h" style="left:208px;top:574.8px;height:25.800000000000068px;line-height:25.800000000000068px;width:14px;text-align:center">名</div>
<div class="c h" style="left:447px;top:574.8px;height:25.800000000000068px;line-height:25.800000000000068px;width:14px;text-align:center">品</div>
<div class="c h" style="left:507px;top:574.8px;height:25.800000000000068px;line-height:25.800000000000068px;width:14px;text-align:center">名</div>
<div class="c " style="left:4.5px;top:602.20px;width:35.0px;height:17.66px;line-height:17.66px;text-align:center;">1</div>
<div class="c " style="left:39.5px;top:602.20px;width:66.5px;height:17.66px;line-height:17.66px;text-align:center;">AT-2001</div>
<div class="c n" style="left:106px;top:602.20px;width:162px;height:17.66px;line-height:17.66px;text-align:left;padding-left:5px;width:157px;"><span class="k">固定彈簧</span></div>
<div class="c " style="left:268px;top:602.20px;width:34px;height:17.66px;line-height:17.66px;text-align:center;">1</div>
<div class="c " style="left:4.5px;top:619.86px;width:35.0px;height:17.66px;line-height:17.66px;text-align:center;">2</div>
<div class="c " style="left:39.5px;top:619.86px;width:66.5px;height:17.66px;line-height:17.66px;text-align:center;">T2011C-02</div>
<div class="c n" style="left:106px;top:619.86px;width:162px;height:17.66px;line-height:17.66px;text-align:left;padding-left:5px;width:157px;"><span class="k">後閥門座</span></div>
<div class="c " style="left:268px;top:619.86px;width:34px;height:17.66px;line-height:17.66px;text-align:center;">1</div>
<div class="c " style="left:4.5px;top:637.52px;width:35.0px;height:17.66px;line-height:17.66px;text-align:center;">3</div>
<div class="c " style="left:39.5px;top:637.52px;width:66.5px;height:17.66px;line-height:17.66px;text-align:center;">T2011C-03</div>
<div class="c n" style="left:106px;top:637.52px;width:162px;height:17.66px;line-height:17.66px;text-align:left;padding-left:5px;width:157px;"><span class="k">閥門墊片</span></div>
<div class="c " style="left:268px;top:637.52px;width:34px;height:17.66px;line-height:17.66px;text-align:center;">1</div>
<div class="c " style="left:4.5px;top:655.18px;width:35.0px;height:17.66px;line-height:17.66px;text-align:center;">4</div>
<div class="c " style="left:39.5px;top:655.18px;width:66.5px;height:17.66px;line-height:17.66px;text-align:center;">T2011C-04</div>
<div class="c n" style="left:106px;top:655.18px;width:162px;height:17.66px;line-height:17.66px;text-align:left;padding-left:5px;width:157px;"><span class="k">前閥門座</span></div>
<div class="c " style="left:268px;top:655.18px;width:34px;height:17.66px;line-height:17.66px;text-align:center;">1</div>
<div class="c " style="left:4.5px;top:672.84px;width:35.0px;height:17.66px;line-height:17.66px;text-align:center;">7</div>
<div class="c " style="left:39.5px;top:672.84px;width:66.5px;height:17.66px;line-height:17.66px;text-align:center;">T2011C-07</div>
<div class="c n" style="left:106px;top:672.84px;width:162px;height:17.66px;line-height:17.66px;text-align:left;padding-left:5px;width:157px;"><span class="k">板機</span></div>
<div class="c " style="left:268px;top:672.84px;width:34px;height:17.66px;line-height:17.66px;text-align:center;">1</div>
<div class="c " style="left:4.5px;top:690.50px;width:35.0px;height:17.66px;line-height:17.66px;text-align:center;">8</div>
<div class="c " style="left:39.5px;top:690.50px;width:66.5px;height:17.66px;line-height:17.66px;text-align:center;">T2011C-08</div>
<div class="c n" style="left:106px;top:690.50px;width:162px;height:17.66px;line-height:17.66px;text-align:left;padding-left:5px;width:157px;"><span class="k">彈簧銷</span>(Ø3×20L)</div>
<div class="c " style="left:268px;top:690.50px;width:34px;height:17.66px;line-height:17.66px;text-align:center;">1</div>
<div class="c " style="left:4.5px;top:708.16px;width:35.0px;height:17.66px;line-height:17.66px;text-align:center;">8-1</div>
<div class="c " style="left:39.5px;top:708.16px;width:66.5px;height:17.66px;line-height:17.66px;text-align:center;">T2011C-08-1</div>
<div class="c n" style="left:106px;top:708.16px;width:162px;height:17.66px;line-height:17.66px;text-align:left;padding-left:5px;width:157px;"><span class="k">彈簧銷</span>(Ø3×16L)</div>
<div class="c " style="left:268px;top:708.16px;width:34px;height:17.66px;line-height:17.66px;text-align:center;">1</div>
<div class="c " style="left:4.5px;top:725.82px;width:35.0px;height:17.66px;line-height:17.66px;text-align:center;">9</div>
<div class="c " style="left:39.5px;top:725.82px;width:66.5px;height:17.66px;line-height:17.66px;text-align:center;">T2011C-09</div>
<div class="c n" style="left:106px;top:725.82px;width:162px;height:17.66px;line-height:17.66px;text-align:left;padding-left:5px;width:157px;"><span class="k">鋼珠底座</span></div>
<div class="c " style="left:268px;top:725.82px;width:34px;height:17.66px;line-height:17.66px;text-align:center;">1</div>
<div class="c " style="left:4.5px;top:743.48px;width:35.0px;height:17.66px;line-height:17.66px;text-align:center;">10</div>
<div class="c " style="left:39.5px;top:743.48px;width:66.5px;height:17.66px;line-height:17.66px;text-align:center;">T2011C-10</div>
<div class="c n" style="left:106px;top:743.48px;width:162px;height:17.66px;line-height:17.66px;text-align:left;padding-left:5px;width:157px;"><span class="k">閥桿</span></div>
<div class="c " style="left:268px;top:743.48px;width:34px;height:17.66px;line-height:17.66px;text-align:center;">1</div>
<div class="c " style="left:4.5px;top:761.14px;width:35.0px;height:17.66px;line-height:17.66px;text-align:center;">10A</div>
<div class="c " style="left:39.5px;top:761.14px;width:66.5px;height:17.66px;line-height:17.66px;text-align:center;">T2011C-10A</div>
<div class="c n" style="left:106px;top:761.14px;width:162px;height:17.66px;line-height:17.66px;text-align:left;padding-left:5px;width:157px;">O <span class="k">型環</span>(d2.5XW1.5)</div>
<div class="c " style="left:268px;top:761.14px;width:34px;height:17.66px;line-height:17.66px;text-align:center;">2</div>
<div class="c " style="left:4.5px;top:778.80px;width:35.0px;height:17.66px;line-height:17.66px;text-align:center;">11</div>
<div class="c " style="left:39.5px;top:778.80px;width:66.5px;height:17.66px;line-height:17.66px;text-align:center;">T2011C-11</div>
<div class="c n" style="left:106px;top:778.80px;width:162px;height:17.66px;line-height:17.66px;text-align:left;padding-left:5px;width:157px;"><span class="k">鋼珠</span>&nbsp; (3/8")</div>
<div class="c " style="left:268px;top:778.80px;width:34px;height:17.66px;line-height:17.66px;text-align:center;">1</div>
<div class="c " style="left:4.5px;top:796.46px;width:35.0px;height:17.66px;line-height:17.66px;text-align:center;">12</div>
<div class="c " style="left:39.5px;top:796.46px;width:66.5px;height:17.66px;line-height:17.66px;text-align:center;">T2011C-12</div>
<div class="c n" style="left:106px;top:796.46px;width:162px;height:17.66px;line-height:17.66px;text-align:left;padding-left:5px;width:157px;"><span class="k">彈簧</span></div>
<div class="c " style="left:268px;top:796.46px;width:34px;height:17.66px;line-height:17.66px;text-align:center;">1</div>
<div class="c " style="left:4.5px;top:814.12px;width:35.0px;height:17.66px;line-height:17.66px;text-align:center;">13</div>
<div class="c " style="left:39.5px;top:814.12px;width:66.5px;height:17.66px;line-height:17.66px;text-align:center;">T2011C-13</div>
<div class="c n" style="left:106px;top:814.12px;width:162px;height:17.66px;line-height:17.66px;text-align:left;padding-left:5px;width:157px;"><span class="k">管接頭</span></div>
<div class="c " style="left:268px;top:814.12px;width:34px;height:17.66px;line-height:17.66px;text-align:center;">1</div>
<div class="c " style="left:302px;top:602.20px;width:34.80000000000001px;height:17.66px;line-height:17.66px;text-align:center;">14</div>
<div class="c " style="left:336.8px;top:602.20px;width:65.69999999999999px;height:17.66px;line-height:17.66px;text-align:center;">T2011C-14</div>
<div class="c n" style="left:402.5px;top:602.20px;width:162.29999999999995px;height:17.66px;line-height:17.66px;text-align:left;padding-left:5px;width:157.29999999999995px;"><span class="k">調速閥</span></div>
<div class="c " style="left:564.8px;top:602.20px;width:32.200000000000045px;height:17.66px;line-height:17.66px;text-align:center;">1</div>
<div class="c " style="left:302px;top:619.86px;width:34.80000000000001px;height:17.66px;line-height:17.66px;text-align:center;">15</div>
<div class="c " style="left:336.8px;top:619.86px;width:65.69999999999999px;height:17.66px;line-height:17.66px;text-align:center;">T2011C-15</div>
<div class="c n" style="left:402.5px;top:619.86px;width:162.29999999999995px;height:17.66px;line-height:17.66px;text-align:left;padding-left:5px;width:157.29999999999995px;">O <span class="k">型環</span>(d5.0XW2.0)</div>
<div class="c " style="left:564.8px;top:619.86px;width:32.200000000000045px;height:17.66px;line-height:17.66px;text-align:center;">2</div>
<div class="c " style="left:302px;top:637.52px;width:34.80000000000001px;height:17.66px;line-height:17.66px;text-align:center;">16</div>
<div class="c " style="left:336.8px;top:637.52px;width:65.69999999999999px;height:17.66px;line-height:17.66px;text-align:center;">T2011C-16</div>
<div class="c n" style="left:402.5px;top:637.52px;width:162.29999999999995px;height:17.66px;line-height:17.66px;text-align:left;padding-left:5px;width:157.29999999999995px;"><span class="k">本體</span></div>
<div class="c " style="left:564.8px;top:637.52px;width:32.200000000000045px;height:17.66px;line-height:17.66px;text-align:center;">1</div>
<div class="c " style="left:302px;top:655.18px;width:34.80000000000001px;height:17.66px;line-height:17.66px;text-align:center;">17</div>
<div class="c " style="left:336.8px;top:655.18px;width:65.69999999999999px;height:17.66px;line-height:17.66px;text-align:center;">T2011C-17</div>
<div class="c n" style="left:402.5px;top:655.18px;width:162.29999999999995px;height:17.66px;line-height:17.66px;text-align:left;padding-left:5px;width:157.29999999999995px;"><span class="k">活塞</span></div>
<div class="c " style="left:564.8px;top:655.18px;width:32.200000000000045px;height:17.66px;line-height:17.66px;text-align:center;">1</div>
<div class="c " style="left:302px;top:672.84px;width:34.80000000000001px;height:17.66px;line-height:17.66px;text-align:center;">18</div>
<div class="c " style="left:336.8px;top:672.84px;width:65.69999999999999px;height:17.66px;line-height:17.66px;text-align:center;">T2010RC-18</div>
<div class="c n" style="left:402.5px;top:672.84px;width:162.29999999999995px;height:17.66px;line-height:17.66px;text-align:left;padding-left:5px;width:157.29999999999995px;"><span class="k">氣缸</span>&nbsp; (<span class="k">圓</span>)</div>
<div class="c " style="left:564.8px;top:672.84px;width:32.200000000000045px;height:17.66px;line-height:17.66px;text-align:center;">1</div>
<div class="c " style="left:302px;top:690.50px;width:34.80000000000001px;height:17.66px;line-height:17.66px;text-align:center;">19</div>
<div class="c " style="left:336.8px;top:690.50px;width:65.69999999999999px;height:17.66px;line-height:17.66px;text-align:center;">TP-2002</div>
<div class="c n" style="left:402.5px;top:690.50px;width:162.29999999999995px;height:17.66px;line-height:17.66px;text-align:left;padding-left:5px;width:157.29999999999995px;"><span class="k">尖口鑿刀</span></div>
<div class="c " style="left:564.8px;top:690.50px;width:32.200000000000045px;height:17.66px;line-height:17.66px;text-align:center;">1</div>
<div class="c " style="left:302px;top:708.16px;width:34.80000000000001px;height:17.66px;line-height:17.66px;text-align:center;">20</div>
<div class="c " style="left:336.8px;top:708.16px;width:65.69999999999999px;height:17.66px;line-height:17.66px;text-align:center;">TP-2004</div>
<div class="c n" style="left:402.5px;top:708.16px;width:162.29999999999995px;height:17.66px;line-height:17.66px;text-align:left;padding-left:5px;width:157.29999999999995px;"><span class="k">平削鑿刀</span></div>
<div class="c " style="left:564.8px;top:708.16px;width:32.200000000000045px;height:17.66px;line-height:17.66px;text-align:center;">1</div>
<div class="c " style="left:302px;top:725.82px;width:34.80000000000001px;height:17.66px;line-height:17.66px;text-align:center;">21</div>
<div class="c " style="left:336.8px;top:725.82px;width:65.69999999999999px;height:17.66px;line-height:17.66px;text-align:center;">TP-2006</div>
<div class="c n" style="left:402.5px;top:725.82px;width:162.29999999999995px;height:17.66px;line-height:17.66px;text-align:left;padding-left:5px;width:157.29999999999995px;"><span class="k">切斷鑿刀</span></div>
<div class="c " style="left:564.8px;top:725.82px;width:32.200000000000045px;height:17.66px;line-height:17.66px;text-align:center;">1</div>
<div class="c " style="left:302px;top:743.48px;width:34.80000000000001px;height:17.66px;line-height:17.66px;text-align:center;">22</div>
<div class="c " style="left:336.8px;top:743.48px;width:65.69999999999999px;height:17.66px;line-height:17.66px;text-align:center;">TP-2008</div>
<div class="c n" style="left:402.5px;top:743.48px;width:162.29999999999995px;height:17.66px;line-height:17.66px;text-align:left;padding-left:5px;width:157.29999999999995px;"><span class="k">平口鑿刀</span></div>
<div class="c " style="left:564.8px;top:743.48px;width:32.200000000000045px;height:17.66px;line-height:17.66px;text-align:center;">1</div>
<div class="c " style="left:302px;top:761.14px;width:34.80000000000001px;height:17.66px;line-height:17.66px;text-align:center;">K01</div>
<div class="c " style="left:336.8px;top:761.14px;width:65.69999999999999px;height:17.66px;line-height:17.66px;text-align:center;">T2011C-K01</div>
<div class="c n" style="left:402.5px;top:761.14px;width:162.29999999999995px;height:17.66px;line-height:17.66px;text-align:left;padding-left:5px;width:157.29999999999995px;"><span class="k">活塞組修理包</span>&nbsp; (2,3,4)</div>
<div class="c " style="left:564.8px;top:761.14px;width:32.200000000000045px;height:17.66px;line-height:17.66px;text-align:center;">1SET</div>
<div class="c " style="left:302px;top:778.80px;width:34.80000000000001px;height:17.66px;line-height:17.66px;text-align:center;">K02</div>
<div class="c " style="left:336.8px;top:778.80px;width:65.69999999999999px;height:17.66px;line-height:17.66px;text-align:center;">T2011C-K02</div>
<div class="c n" style="left:402.5px;top:778.80px;width:162.29999999999995px;height:17.66px;line-height:17.66px;text-align:left;padding-left:5px;width:157.29999999999995px;"><span class="k">節流閥組修理包</span> :</div>
<div class="c " style="left:564.8px;top:778.80px;width:32.200000000000045px;height:17.66px;line-height:17.66px;text-align:center;">1SET</div>
<div class="c n" style="left:402.5px;top:796.46px;width:162.29999999999995px;height:17.66px;line-height:17.66px;text-align:left;padding-left:5px;width:157.29999999999995px;">(9,10,10A,11,12,13)</div>
<div class="s b" style="left:7px;top:507px;">規格表 :</div>
<div class="s" style="left:8px;top:522px;">＊每分鐘打擊次數 ------------- 4500 BPM</div>
<div class="s" style="left:8px;top:536px;">＊活塞直徑 ------------------------------ 3/4"</div>
<div class="s" style="left:8px;top:549px;">＊空氣壓力 --------------------------- 90 PSI</div>
<div class="s" style="left:8px;top:562.3px;">＊進氣口尺寸 --------------- 1/4" PT(NPT)</div>
<div class="s" style="left:296px;top:522px;">＊鑿刀柄尺寸 --------------------- 0.401"</div>
<div class="s" style="left:294px;top:536px;">＊活塞行程 ------------------------ 1-5/8"</div>
<div class="s" style="left:296px;top:549px;">＊氣管內徑------------------------ 3/8" ID</div>
<div class="s f" style="left:6px;top:836.3px;">## 可選擇的零件</div>
<div class="ln" style="left:466px;top:830.18px;width:1.2px;height:18.82px;background:#484848"></div>
<div class="ln" style="left:564.2px;top:830.18px;width:1.2px;height:18.82px;background:#484848"></div>
<div class="ln" style="left:466px;top:848.3px;width:99.4px;height:1.4px;background:#484848"></div>
<div class="num" style="left:468px;top:830.18px;width:97px;height:18.82px;line-height:19.32px">1203001</div>
</body></html>
